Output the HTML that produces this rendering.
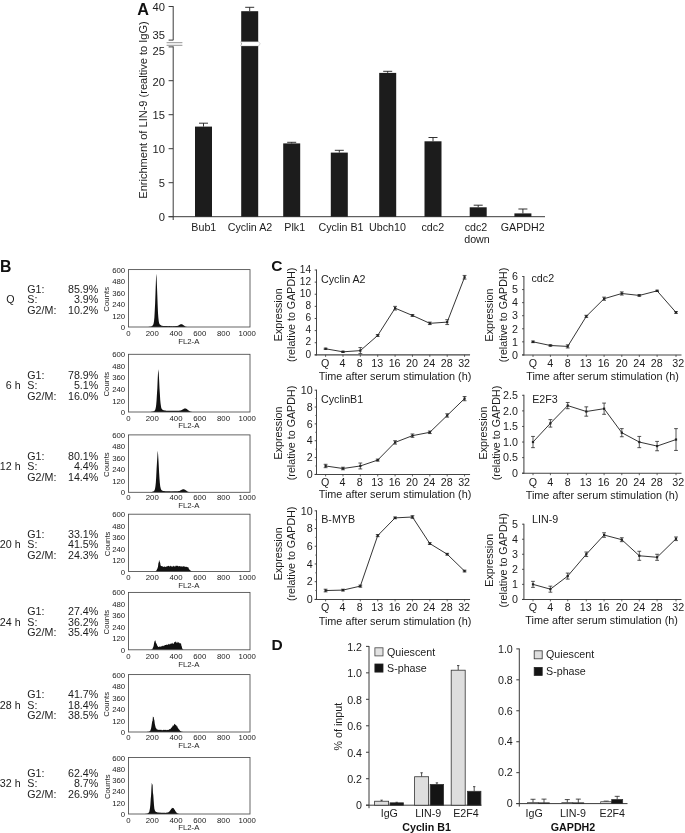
<!DOCTYPE html>
<html lang="en"><head><meta charset="utf-8"><title>Figure</title>
<style>
html,body{margin:0;padding:0;background:#fff;}
svg{display:block;font-family:"Liberation Sans",Arial,Helvetica,sans-serif;}
</style></head><body>
<svg width="685" height="833" viewBox="0 0 685 833">
<rect x="0" y="0" width="685" height="833" fill="#ffffff"/>
<text x="137.2" y="14.6" font-size="16.2" text-anchor="start" font-weight="bold" fill="#111">A</text>
<line x1="173.20" y1="6.20" x2="173.20" y2="40.20" stroke="#3a3a3a" stroke-width="1"/>
<line x1="173.20" y1="46.40" x2="173.20" y2="220.00" stroke="#3a3a3a" stroke-width="1"/>
<line x1="168.60" y1="216.70" x2="545.00" y2="216.70" stroke="#3a3a3a" stroke-width="1"/>
<line x1="168.60" y1="216.70" x2="173.20" y2="216.70" stroke="#3a3a3a" stroke-width="1"/>
<text x="165.0" y="220.6" font-size="11.2" text-anchor="end" font-weight="normal" fill="#1c1c1c">0</text>
<line x1="168.60" y1="182.70" x2="173.20" y2="182.70" stroke="#3a3a3a" stroke-width="1"/>
<text x="165.0" y="186.6" font-size="11.2" text-anchor="end" font-weight="normal" fill="#1c1c1c">5</text>
<line x1="168.60" y1="148.70" x2="173.20" y2="148.70" stroke="#3a3a3a" stroke-width="1"/>
<text x="165.0" y="152.6" font-size="11.2" text-anchor="end" font-weight="normal" fill="#1c1c1c">10</text>
<line x1="168.60" y1="114.70" x2="173.20" y2="114.70" stroke="#3a3a3a" stroke-width="1"/>
<text x="165.0" y="118.6" font-size="11.2" text-anchor="end" font-weight="normal" fill="#1c1c1c">15</text>
<line x1="168.60" y1="80.70" x2="173.20" y2="80.70" stroke="#3a3a3a" stroke-width="1"/>
<text x="165.0" y="85.8" font-size="11.2" text-anchor="end" font-weight="normal" fill="#1c1c1c">20</text>
<line x1="168.60" y1="46.90" x2="173.20" y2="46.90" stroke="#3a3a3a" stroke-width="1"/>
<text x="165.0" y="54.5" font-size="11.2" text-anchor="end" font-weight="normal" fill="#1c1c1c">25</text>
<line x1="168.60" y1="40.10" x2="173.20" y2="40.10" stroke="#3a3a3a" stroke-width="1"/>
<text x="165.0" y="38.7" font-size="11.2" text-anchor="end" font-weight="normal" fill="#1c1c1c">35</text>
<line x1="168.60" y1="6.50" x2="173.20" y2="6.50" stroke="#3a3a3a" stroke-width="1"/>
<text x="165.0" y="11.1" font-size="11.2" text-anchor="end" font-weight="normal" fill="#1c1c1c">40</text>
<line x1="166.60" y1="42.70" x2="182.40" y2="42.70" stroke="#888" stroke-width="0.9"/>
<line x1="166.60" y1="45.30" x2="182.40" y2="45.30" stroke="#888" stroke-width="0.9"/>
<text x="146.8" y="110.0" font-size="11.05" text-anchor="middle" font-weight="normal" fill="#1c1c1c" transform="rotate(-90 146.8 110)">Enrichment of LIN-9 (realtive to IgG)</text>
<line x1="203.50" y1="123.20" x2="203.50" y2="126.60" stroke="#1c1c1c" stroke-width="0.9"/>
<line x1="199.00" y1="123.20" x2="208.00" y2="123.20" stroke="#1c1c1c" stroke-width="0.9"/>
<rect x="195.00" y="126.60" width="17.00" height="90.10" fill="#1c1c1c" stroke="none" stroke-width="1"/>
<text x="203.8" y="230.5" font-size="10.7" text-anchor="middle" font-weight="normal" fill="#1c1c1c">Bub1</text>
<line x1="249.70" y1="7.30" x2="249.70" y2="11.20" stroke="#1c1c1c" stroke-width="0.9"/>
<line x1="245.20" y1="7.30" x2="254.20" y2="7.30" stroke="#1c1c1c" stroke-width="0.9"/>
<rect x="241.20" y="11.20" width="17.00" height="205.50" fill="#1c1c1c" stroke="none" stroke-width="1"/>
<text x="250.0" y="230.5" font-size="10.7" text-anchor="middle" font-weight="normal" fill="#1c1c1c">Cyclin A2</text>
<line x1="291.70" y1="142.30" x2="291.70" y2="143.40" stroke="#1c1c1c" stroke-width="0.9"/>
<line x1="287.20" y1="142.30" x2="296.20" y2="142.30" stroke="#1c1c1c" stroke-width="0.9"/>
<rect x="283.20" y="143.40" width="17.00" height="73.30" fill="#1c1c1c" stroke="none" stroke-width="1"/>
<text x="294.7" y="230.5" font-size="10.7" text-anchor="middle" font-weight="normal" fill="#1c1c1c">Plk1</text>
<line x1="339.30" y1="150.30" x2="339.30" y2="152.60" stroke="#1c1c1c" stroke-width="0.9"/>
<line x1="334.80" y1="150.30" x2="343.80" y2="150.30" stroke="#1c1c1c" stroke-width="0.9"/>
<rect x="330.80" y="152.60" width="17.00" height="64.10" fill="#1c1c1c" stroke="none" stroke-width="1"/>
<text x="341.0" y="230.5" font-size="10.7" text-anchor="middle" font-weight="normal" fill="#1c1c1c">Cyclin B1</text>
<line x1="387.70" y1="71.30" x2="387.70" y2="72.90" stroke="#1c1c1c" stroke-width="0.9"/>
<line x1="383.20" y1="71.30" x2="392.20" y2="71.30" stroke="#1c1c1c" stroke-width="0.9"/>
<rect x="379.20" y="72.90" width="17.00" height="143.80" fill="#1c1c1c" stroke="none" stroke-width="1"/>
<text x="387.5" y="230.5" font-size="10.7" text-anchor="middle" font-weight="normal" fill="#1c1c1c">Ubch10</text>
<line x1="433.00" y1="137.50" x2="433.00" y2="141.30" stroke="#1c1c1c" stroke-width="0.9"/>
<line x1="428.50" y1="137.50" x2="437.50" y2="137.50" stroke="#1c1c1c" stroke-width="0.9"/>
<rect x="424.50" y="141.30" width="17.00" height="75.40" fill="#1c1c1c" stroke="none" stroke-width="1"/>
<text x="432.8" y="230.5" font-size="10.7" text-anchor="middle" font-weight="normal" fill="#1c1c1c">cdc2</text>
<line x1="478.20" y1="205.20" x2="478.20" y2="207.30" stroke="#1c1c1c" stroke-width="0.9"/>
<line x1="473.70" y1="205.20" x2="482.70" y2="205.20" stroke="#1c1c1c" stroke-width="0.9"/>
<rect x="469.70" y="207.30" width="17.00" height="9.40" fill="#1c1c1c" stroke="none" stroke-width="1"/>
<text x="476.0" y="230.5" font-size="10.7" text-anchor="middle" font-weight="normal" fill="#1c1c1c">cdc2</text>
<line x1="522.90" y1="209.00" x2="522.90" y2="213.40" stroke="#1c1c1c" stroke-width="0.9"/>
<line x1="518.40" y1="209.00" x2="527.40" y2="209.00" stroke="#1c1c1c" stroke-width="0.9"/>
<rect x="514.40" y="213.40" width="17.00" height="3.30" fill="#1c1c1c" stroke="none" stroke-width="1"/>
<text x="522.7" y="230.5" font-size="10.7" text-anchor="middle" font-weight="normal" fill="#1c1c1c">GAPDH2</text>
<text x="477.0" y="242.6" font-size="10.7" text-anchor="middle" font-weight="normal" fill="#1c1c1c">down</text>
<path d="M240.6 41.7 L258.6 41.7 L260.2 43.8 L258.6 46 L240.6 46 L241.6 43.8 Z" fill="#fff" stroke="#999" stroke-width="0.4"/>
<text x="0.1" y="271.5" font-size="15.8" text-anchor="start" font-weight="bold" fill="#111">B</text>
<path d="M143.08 327.00 L143.08 327.00 L143.44 327.00 L143.81 327.00 L144.17 327.00 L144.54 327.00 L144.90 327.00 L145.27 327.00 L145.63 327.00 L146.00 327.00 L146.36 327.00 L146.72 327.00 L147.09 327.00 L147.45 327.00 L147.82 327.00 L148.18 327.00 L148.55 327.00 L148.91 326.86 L149.28 326.82 L149.64 326.78 L150.01 326.73 L150.37 326.64 L150.73 326.58 L151.10 326.43 L151.46 326.32 L151.83 326.16 L152.19 325.94 L152.56 325.62 L152.92 325.11 L153.29 324.59 L153.65 323.32 L154.01 321.13 L154.38 317.50 L154.74 311.07 L155.11 303.41 L155.47 293.40 L155.84 283.12 L156.20 273.69 L156.57 276.83 L156.93 285.45 L157.30 294.72 L157.66 305.08 L158.02 313.15 L158.39 317.91 L158.75 321.19 L159.12 323.11 L159.48 323.92 L159.85 324.49 L160.21 324.78 L160.58 325.08 L160.94 325.37 L161.31 325.43 L161.67 325.68 L162.03 325.75 L162.40 325.79 L162.76 325.92 L163.13 325.94 L163.49 326.03 L163.86 326.00 L164.22 326.01 L164.59 326.05 L164.95 326.04 L165.31 326.11 L165.68 326.08 L166.04 326.10 L166.41 326.11 L166.77 326.12 L167.14 326.09 L167.50 326.09 L167.87 326.13 L168.23 326.12 L168.59 326.17 L168.96 326.12 L169.32 326.12 L169.69 326.09 L170.05 326.11 L170.42 326.16 L170.78 326.15 L171.15 326.12 L171.51 326.18 L171.88 326.14 L172.24 326.17 L172.60 326.17 L172.97 326.18 L173.33 326.12 L173.70 326.17 L174.06 326.16 L174.43 326.14 L174.79 326.10 L175.16 326.16 L175.52 326.12 L175.88 326.09 L176.25 326.03 L176.61 325.99 L176.98 325.92 L177.34 325.90 L177.71 325.77 L178.07 325.63 L178.44 325.38 L178.80 325.16 L179.17 325.09 L179.53 324.86 L179.89 324.63 L180.26 324.44 L180.62 324.22 L180.99 324.09 L181.35 324.16 L181.72 324.28 L182.08 324.29 L182.45 324.49 L182.81 324.69 L183.18 324.89 L183.54 325.25 L183.90 325.57 L184.27 325.84 L184.63 326.09 L185.00 326.35 L185.36 326.48 L185.73 326.63 L186.09 326.74 L186.46 326.82 L186.82 327.00 L187.18 327.00 L187.55 327.00 L187.91 327.00 L188.28 327.00 L188.64 327.00 L189.01 327.00 L189.37 327.00 L189.74 327.00 L190.10 327.00 L190.47 327.00 L190.83 327.00 L191.19 327.00 L191.56 327.00 L191.92 327.00 L192.29 327.00 L192.65 327.00 L193.02 327.00 L193.38 327.00 L193.75 327.00 L194.11 327.00 L194.47 327.00 L194.84 327.00 L195.20 327.00 L195.57 327.00 L195.93 327.00 L196.30 327.00 L196.66 327.00 L197.03 327.00 L197.39 327.00 L197.75 327.00 L198.12 327.00 L198.48 327.00 L198.85 327.00 L199.21 327.00 L199.58 327.00 L199.94 327.00 L200.31 327.00 L200.67 327.00 L201.04 327.00 L201.40 327.00 L201.40 327.00 Z" fill="#111"/>
<rect x="128.50" y="269.60" width="121.50" height="57.40" fill="none" stroke="#4a4a4a" stroke-width="0.85"/>
<text x="125.2" y="330.0" font-size="7.8" text-anchor="end" font-weight="normal" fill="#1c1c1c">0</text>
<text x="125.2" y="318.5" font-size="7.8" text-anchor="end" font-weight="normal" fill="#1c1c1c">120</text>
<text x="125.2" y="307.0" font-size="7.8" text-anchor="end" font-weight="normal" fill="#1c1c1c">240</text>
<text x="125.2" y="295.6" font-size="7.8" text-anchor="end" font-weight="normal" fill="#1c1c1c">360</text>
<text x="125.2" y="284.1" font-size="7.8" text-anchor="end" font-weight="normal" fill="#1c1c1c">480</text>
<text x="125.2" y="272.6" font-size="7.8" text-anchor="end" font-weight="normal" fill="#1c1c1c">600</text>
<text x="128.5" y="335.9" font-size="7.8" text-anchor="middle" font-weight="normal" fill="#1c1c1c">0</text>
<text x="152.3" y="335.9" font-size="7.8" text-anchor="middle" font-weight="normal" fill="#1c1c1c">200</text>
<text x="176.0" y="335.9" font-size="7.8" text-anchor="middle" font-weight="normal" fill="#1c1c1c">400</text>
<text x="199.8" y="335.9" font-size="7.8" text-anchor="middle" font-weight="normal" fill="#1c1c1c">600</text>
<text x="223.5" y="335.9" font-size="7.8" text-anchor="middle" font-weight="normal" fill="#1c1c1c">800</text>
<text x="247.3" y="335.9" font-size="7.8" text-anchor="middle" font-weight="normal" fill="#1c1c1c">1000</text>
<text x="188.8" y="343.9" font-size="7.8" text-anchor="middle" font-weight="normal" fill="#1c1c1c">FL2-A</text>
<text x="109.5" y="299.3" font-size="7.8" text-anchor="middle" font-weight="normal" fill="#1c1c1c" transform="rotate(-90 109.5 299.3)">Counts</text>
<text x="10.5" y="303.1" font-size="10.7" text-anchor="middle" font-weight="normal" fill="#1c1c1c">Q</text>
<text x="27.3" y="292.6" font-size="10.7" text-anchor="start" font-weight="normal" fill="#1c1c1c">G1:</text>
<text x="98.3" y="292.6" font-size="10.7" text-anchor="end" font-weight="normal" fill="#1c1c1c">85.9%</text>
<text x="27.3" y="303.1" font-size="10.7" text-anchor="start" font-weight="normal" fill="#1c1c1c">S:</text>
<text x="98.3" y="303.1" font-size="10.7" text-anchor="end" font-weight="normal" fill="#1c1c1c">3.9%</text>
<text x="27.3" y="313.6" font-size="10.7" text-anchor="start" font-weight="normal" fill="#1c1c1c">G2/M:</text>
<text x="98.3" y="313.6" font-size="10.7" text-anchor="end" font-weight="normal" fill="#1c1c1c">10.2%</text>
<path d="M143.08 412.00 L143.08 412.00 L143.44 412.00 L143.81 412.00 L144.17 412.00 L144.54 412.00 L144.90 412.00 L145.27 412.00 L145.63 412.00 L146.00 412.00 L146.36 412.00 L146.72 412.00 L147.09 412.00 L147.45 412.00 L147.82 412.00 L148.18 412.00 L148.55 412.00 L148.91 412.00 L149.28 412.00 L149.64 412.00 L150.01 412.00 L150.37 412.00 L150.73 411.88 L151.10 411.84 L151.46 411.79 L151.83 411.76 L152.19 411.68 L152.56 411.61 L152.92 411.52 L153.29 411.43 L153.65 411.31 L154.01 411.13 L154.38 410.90 L154.74 410.57 L155.11 409.96 L155.47 408.95 L155.84 407.31 L156.20 404.79 L156.57 400.44 L156.93 394.33 L157.30 388.84 L157.66 380.06 L158.02 372.83 L158.39 369.24 L158.75 373.14 L159.12 380.10 L159.48 387.90 L159.85 393.41 L160.21 399.79 L160.58 403.41 L160.94 406.03 L161.31 407.91 L161.67 408.80 L162.03 409.18 L162.40 409.58 L162.76 409.94 L163.13 410.11 L163.49 410.24 L163.86 410.22 L164.22 410.33 L164.59 410.50 L164.95 410.46 L165.31 410.48 L165.68 410.57 L166.04 410.64 L166.41 410.64 L166.77 410.72 L167.14 410.75 L167.50 410.63 L167.87 410.69 L168.23 410.71 L168.59 410.67 L168.96 410.74 L169.32 410.68 L169.69 410.69 L170.05 410.77 L170.42 410.77 L170.78 410.77 L171.15 410.78 L171.51 410.73 L171.88 410.78 L172.24 410.76 L172.60 410.79 L172.97 410.70 L173.33 410.77 L173.70 410.75 L174.06 410.74 L174.43 410.70 L174.79 410.76 L175.16 410.70 L175.52 410.75 L175.88 410.74 L176.25 410.75 L176.61 410.81 L176.98 410.75 L177.34 410.78 L177.71 410.80 L178.07 410.69 L178.44 410.76 L178.80 410.70 L179.17 410.64 L179.53 410.62 L179.89 410.60 L180.26 410.51 L180.62 410.41 L180.99 410.25 L181.35 410.23 L181.72 409.98 L182.08 409.86 L182.45 409.65 L182.81 409.30 L183.18 409.15 L183.54 408.91 L183.90 408.65 L184.27 408.44 L184.63 408.49 L185.00 408.39 L185.36 408.44 L185.73 408.52 L186.09 408.61 L186.46 408.89 L186.82 409.11 L187.18 409.40 L187.55 409.59 L187.91 409.96 L188.28 410.24 L188.64 410.52 L189.01 410.87 L189.37 411.07 L189.74 411.25 L190.10 411.43 L190.47 411.60 L190.83 411.71 L191.19 411.78 L191.56 411.85 L191.92 412.00 L192.29 412.00 L192.65 412.00 L193.02 412.00 L193.38 412.00 L193.75 412.00 L194.11 412.00 L194.47 412.00 L194.84 412.00 L195.20 412.00 L195.57 412.00 L195.93 412.00 L196.30 412.00 L196.66 412.00 L197.03 412.00 L197.39 412.00 L197.75 412.00 L198.12 412.00 L198.48 412.00 L198.85 412.00 L199.21 412.00 L199.58 412.00 L199.94 412.00 L200.31 412.00 L200.67 412.00 L201.04 412.00 L201.40 412.00 L201.40 412.00 Z" fill="#111"/>
<rect x="128.50" y="354.30" width="121.50" height="57.70" fill="none" stroke="#4a4a4a" stroke-width="0.85"/>
<text x="125.2" y="415.0" font-size="7.8" text-anchor="end" font-weight="normal" fill="#1c1c1c">0</text>
<text x="125.2" y="403.5" font-size="7.8" text-anchor="end" font-weight="normal" fill="#1c1c1c">120</text>
<text x="125.2" y="391.9" font-size="7.8" text-anchor="end" font-weight="normal" fill="#1c1c1c">240</text>
<text x="125.2" y="380.4" font-size="7.8" text-anchor="end" font-weight="normal" fill="#1c1c1c">360</text>
<text x="125.2" y="368.8" font-size="7.8" text-anchor="end" font-weight="normal" fill="#1c1c1c">480</text>
<text x="125.2" y="357.3" font-size="7.8" text-anchor="end" font-weight="normal" fill="#1c1c1c">600</text>
<text x="128.5" y="421.2" font-size="7.8" text-anchor="middle" font-weight="normal" fill="#1c1c1c">0</text>
<text x="152.3" y="421.2" font-size="7.8" text-anchor="middle" font-weight="normal" fill="#1c1c1c">200</text>
<text x="176.0" y="421.2" font-size="7.8" text-anchor="middle" font-weight="normal" fill="#1c1c1c">400</text>
<text x="199.8" y="421.2" font-size="7.8" text-anchor="middle" font-weight="normal" fill="#1c1c1c">600</text>
<text x="223.5" y="421.2" font-size="7.8" text-anchor="middle" font-weight="normal" fill="#1c1c1c">800</text>
<text x="247.3" y="421.2" font-size="7.8" text-anchor="middle" font-weight="normal" fill="#1c1c1c">1000</text>
<text x="188.8" y="427.9" font-size="7.8" text-anchor="middle" font-weight="normal" fill="#1c1c1c">FL2-A</text>
<text x="109.5" y="384.1" font-size="7.8" text-anchor="middle" font-weight="normal" fill="#1c1c1c" transform="rotate(-90 109.5 384.15)">Counts</text>
<text x="20.6" y="389.3" font-size="10.7" text-anchor="end" font-weight="normal" fill="#1c1c1c">6 h</text>
<text x="27.3" y="378.8" font-size="10.7" text-anchor="start" font-weight="normal" fill="#1c1c1c">G1:</text>
<text x="98.3" y="378.8" font-size="10.7" text-anchor="end" font-weight="normal" fill="#1c1c1c">78.9%</text>
<text x="27.3" y="389.3" font-size="10.7" text-anchor="start" font-weight="normal" fill="#1c1c1c">S:</text>
<text x="98.3" y="389.3" font-size="10.7" text-anchor="end" font-weight="normal" fill="#1c1c1c">5.1%</text>
<text x="27.3" y="399.8" font-size="10.7" text-anchor="start" font-weight="normal" fill="#1c1c1c">G2/M:</text>
<text x="98.3" y="399.8" font-size="10.7" text-anchor="end" font-weight="normal" fill="#1c1c1c">16.0%</text>
<path d="M143.08 492.30 L143.08 492.30 L143.44 492.30 L143.81 492.30 L144.17 492.30 L144.54 492.30 L144.90 492.30 L145.27 492.30 L145.63 492.30 L146.00 492.30 L146.36 492.30 L146.72 492.30 L147.09 492.30 L147.45 492.30 L147.82 492.30 L148.18 492.30 L148.55 492.30 L148.91 492.30 L149.28 492.30 L149.64 492.30 L150.01 492.17 L150.37 492.15 L150.73 492.11 L151.10 492.08 L151.46 492.03 L151.83 491.94 L152.19 491.86 L152.56 491.78 L152.92 491.59 L153.29 491.44 L153.65 491.20 L154.01 490.99 L154.38 490.40 L154.74 489.79 L155.11 488.17 L155.47 486.01 L155.84 482.43 L156.20 476.83 L156.57 469.15 L156.93 463.31 L157.30 457.14 L157.66 450.80 L158.02 453.17 L158.39 458.92 L158.75 465.53 L159.12 472.76 L159.48 478.54 L159.85 483.03 L160.21 486.14 L160.58 487.83 L160.94 489.13 L161.31 489.70 L161.67 490.17 L162.03 490.40 L162.40 490.65 L162.76 490.75 L163.13 490.91 L163.49 490.90 L163.86 491.01 L164.22 491.11 L164.59 491.13 L164.95 491.12 L165.31 491.25 L165.68 491.20 L166.04 491.26 L166.41 491.27 L166.77 491.25 L167.14 491.31 L167.50 491.30 L167.87 491.29 L168.23 491.27 L168.59 491.34 L168.96 491.29 L169.32 491.31 L169.69 491.32 L170.05 491.34 L170.42 491.35 L170.78 491.38 L171.15 491.37 L171.51 491.38 L171.88 491.32 L172.24 491.36 L172.60 491.37 L172.97 491.38 L173.33 491.31 L173.70 491.31 L174.06 491.33 L174.43 491.36 L174.79 491.37 L175.16 491.36 L175.52 491.34 L175.88 491.36 L176.25 491.33 L176.61 491.34 L176.98 491.25 L177.34 491.22 L177.71 491.23 L178.07 491.22 L178.44 491.07 L178.80 491.07 L179.17 490.96 L179.53 490.89 L179.89 490.68 L180.26 490.50 L180.62 490.30 L180.99 490.16 L181.35 489.89 L181.72 489.82 L182.08 489.58 L182.45 489.48 L182.81 489.29 L183.18 489.34 L183.54 489.35 L183.90 489.33 L184.27 489.46 L184.63 489.53 L185.00 489.76 L185.36 489.95 L185.73 490.23 L186.09 490.49 L186.46 490.74 L186.82 491.06 L187.18 491.29 L187.55 491.44 L187.91 491.68 L188.28 491.80 L188.64 491.93 L189.01 492.04 L189.37 492.10 L189.74 492.16 L190.10 492.30 L190.47 492.30 L190.83 492.30 L191.19 492.30 L191.56 492.30 L191.92 492.30 L192.29 492.30 L192.65 492.30 L193.02 492.30 L193.38 492.30 L193.75 492.30 L194.11 492.30 L194.47 492.30 L194.84 492.30 L195.20 492.30 L195.57 492.30 L195.93 492.30 L196.30 492.30 L196.66 492.30 L197.03 492.30 L197.39 492.30 L197.75 492.30 L198.12 492.30 L198.48 492.30 L198.85 492.30 L199.21 492.30 L199.58 492.30 L199.94 492.30 L200.31 492.30 L200.67 492.30 L201.04 492.30 L201.40 492.30 L201.40 492.30 Z" fill="#111"/>
<rect x="128.50" y="434.90" width="121.50" height="57.40" fill="none" stroke="#4a4a4a" stroke-width="0.85"/>
<text x="125.2" y="495.3" font-size="7.8" text-anchor="end" font-weight="normal" fill="#1c1c1c">0</text>
<text x="125.2" y="483.8" font-size="7.8" text-anchor="end" font-weight="normal" fill="#1c1c1c">120</text>
<text x="125.2" y="472.3" font-size="7.8" text-anchor="end" font-weight="normal" fill="#1c1c1c">240</text>
<text x="125.2" y="460.9" font-size="7.8" text-anchor="end" font-weight="normal" fill="#1c1c1c">360</text>
<text x="125.2" y="449.4" font-size="7.8" text-anchor="end" font-weight="normal" fill="#1c1c1c">480</text>
<text x="125.2" y="437.9" font-size="7.8" text-anchor="end" font-weight="normal" fill="#1c1c1c">600</text>
<text x="128.5" y="499.9" font-size="7.8" text-anchor="middle" font-weight="normal" fill="#1c1c1c">0</text>
<text x="152.3" y="499.9" font-size="7.8" text-anchor="middle" font-weight="normal" fill="#1c1c1c">200</text>
<text x="176.0" y="499.9" font-size="7.8" text-anchor="middle" font-weight="normal" fill="#1c1c1c">400</text>
<text x="199.8" y="499.9" font-size="7.8" text-anchor="middle" font-weight="normal" fill="#1c1c1c">600</text>
<text x="223.5" y="499.9" font-size="7.8" text-anchor="middle" font-weight="normal" fill="#1c1c1c">800</text>
<text x="247.3" y="499.9" font-size="7.8" text-anchor="middle" font-weight="normal" fill="#1c1c1c">1000</text>
<text x="188.8" y="507.5" font-size="7.8" text-anchor="middle" font-weight="normal" fill="#1c1c1c">FL2-A</text>
<text x="109.5" y="464.6" font-size="7.8" text-anchor="middle" font-weight="normal" fill="#1c1c1c" transform="rotate(-90 109.5 464.6)">Counts</text>
<text x="20.6" y="470.2" font-size="10.7" text-anchor="end" font-weight="normal" fill="#1c1c1c">12 h</text>
<text x="27.3" y="459.7" font-size="10.7" text-anchor="start" font-weight="normal" fill="#1c1c1c">G1:</text>
<text x="98.3" y="459.7" font-size="10.7" text-anchor="end" font-weight="normal" fill="#1c1c1c">80.1%</text>
<text x="27.3" y="470.2" font-size="10.7" text-anchor="start" font-weight="normal" fill="#1c1c1c">S:</text>
<text x="98.3" y="470.2" font-size="10.7" text-anchor="end" font-weight="normal" fill="#1c1c1c">4.4%</text>
<text x="27.3" y="480.7" font-size="10.7" text-anchor="start" font-weight="normal" fill="#1c1c1c">G2/M:</text>
<text x="98.3" y="480.7" font-size="10.7" text-anchor="end" font-weight="normal" fill="#1c1c1c">14.4%</text>
<path d="M143.08 571.50 L143.08 571.50 L143.44 571.50 L143.81 571.50 L144.17 571.50 L144.54 571.50 L144.90 571.50 L145.27 571.50 L145.63 571.50 L146.00 571.50 L146.36 571.50 L146.72 571.50 L147.09 571.50 L147.45 571.50 L147.82 571.50 L148.18 571.50 L148.55 571.50 L148.91 571.50 L149.28 571.50 L149.64 571.50 L150.01 571.50 L150.37 571.50 L150.73 571.50 L151.10 571.50 L151.46 571.50 L151.83 571.50 L152.19 571.50 L152.56 571.50 L152.92 571.50 L153.29 571.50 L153.65 571.50 L154.01 571.50 L154.38 571.50 L154.74 571.50 L155.11 571.31 L155.47 571.20 L155.84 571.11 L156.20 570.79 L156.57 570.26 L156.93 569.51 L157.30 568.86 L157.66 567.85 L158.02 566.40 L158.39 563.14 L158.75 562.41 L159.12 559.84 L159.48 561.29 L159.85 561.89 L160.21 562.91 L160.58 565.67 L160.94 565.45 L161.31 566.22 L161.67 565.90 L162.03 566.19 L162.40 566.80 L162.76 566.02 L163.13 566.52 L163.49 567.08 L163.86 567.10 L164.22 566.51 L164.59 566.55 L164.95 566.72 L165.31 566.90 L165.68 566.64 L166.04 566.66 L166.41 566.01 L166.77 567.01 L167.14 566.08 L167.50 565.95 L167.87 566.82 L168.23 565.81 L168.59 566.05 L168.96 565.80 L169.32 566.55 L169.69 566.43 L170.05 566.39 L170.42 565.61 L170.78 566.12 L171.15 566.39 L171.51 566.29 L171.88 566.48 L172.24 566.76 L172.60 566.68 L172.97 565.74 L173.33 566.44 L173.70 565.60 L174.06 566.48 L174.43 566.45 L174.79 566.14 L175.16 566.55 L175.52 566.32 L175.88 565.58 L176.25 565.67 L176.61 565.77 L176.98 566.01 L177.34 565.66 L177.71 565.64 L178.07 566.15 L178.44 565.95 L178.80 566.81 L179.17 565.96 L179.53 566.33 L179.89 565.97 L180.26 566.12 L180.62 566.58 L180.99 566.89 L181.35 565.82 L181.72 566.83 L182.08 566.42 L182.45 566.59 L182.81 566.67 L183.18 566.15 L183.54 565.88 L183.90 566.77 L184.27 566.31 L184.63 566.76 L185.00 566.48 L185.36 566.70 L185.73 567.01 L186.09 567.06 L186.46 567.08 L186.82 566.39 L187.18 566.98 L187.55 567.46 L187.91 567.04 L188.28 567.34 L188.64 568.24 L189.01 568.93 L189.37 569.38 L189.74 569.88 L190.10 570.21 L190.47 570.62 L190.83 570.85 L191.19 571.04 L191.56 571.16 L191.92 571.25 L192.29 571.33 L192.65 571.50 L193.02 571.50 L193.38 571.50 L193.75 571.50 L194.11 571.50 L194.47 571.50 L194.84 571.50 L195.20 571.50 L195.57 571.50 L195.93 571.50 L196.30 571.50 L196.66 571.50 L197.03 571.50 L197.39 571.50 L197.75 571.50 L198.12 571.50 L198.48 571.50 L198.85 571.50 L199.21 571.50 L199.58 571.50 L199.94 571.50 L200.31 571.50 L200.67 571.50 L201.04 571.50 L201.40 571.50 L201.40 571.50 Z" fill="#111"/>
<rect x="128.50" y="514.20" width="121.50" height="57.30" fill="none" stroke="#4a4a4a" stroke-width="0.85"/>
<text x="125.2" y="574.5" font-size="7.8" text-anchor="end" font-weight="normal" fill="#1c1c1c">0</text>
<text x="125.2" y="563.0" font-size="7.8" text-anchor="end" font-weight="normal" fill="#1c1c1c">120</text>
<text x="125.2" y="551.6" font-size="7.8" text-anchor="end" font-weight="normal" fill="#1c1c1c">240</text>
<text x="125.2" y="540.1" font-size="7.8" text-anchor="end" font-weight="normal" fill="#1c1c1c">360</text>
<text x="125.2" y="528.7" font-size="7.8" text-anchor="end" font-weight="normal" fill="#1c1c1c">480</text>
<text x="125.2" y="517.2" font-size="7.8" text-anchor="end" font-weight="normal" fill="#1c1c1c">600</text>
<text x="128.5" y="580.2" font-size="7.8" text-anchor="middle" font-weight="normal" fill="#1c1c1c">0</text>
<text x="152.3" y="580.2" font-size="7.8" text-anchor="middle" font-weight="normal" fill="#1c1c1c">200</text>
<text x="176.0" y="580.2" font-size="7.8" text-anchor="middle" font-weight="normal" fill="#1c1c1c">400</text>
<text x="199.8" y="580.2" font-size="7.8" text-anchor="middle" font-weight="normal" fill="#1c1c1c">600</text>
<text x="223.5" y="580.2" font-size="7.8" text-anchor="middle" font-weight="normal" fill="#1c1c1c">800</text>
<text x="247.3" y="580.2" font-size="7.8" text-anchor="middle" font-weight="normal" fill="#1c1c1c">1000</text>
<text x="188.8" y="587.9" font-size="7.8" text-anchor="middle" font-weight="normal" fill="#1c1c1c">FL2-A</text>
<text x="109.5" y="543.9" font-size="7.8" text-anchor="middle" font-weight="normal" fill="#1c1c1c" transform="rotate(-90 109.5 543.85)">Counts</text>
<text x="20.6" y="548.3" font-size="10.7" text-anchor="end" font-weight="normal" fill="#1c1c1c">20 h</text>
<text x="27.3" y="537.8" font-size="10.7" text-anchor="start" font-weight="normal" fill="#1c1c1c">G1:</text>
<text x="98.3" y="537.8" font-size="10.7" text-anchor="end" font-weight="normal" fill="#1c1c1c">33.1%</text>
<text x="27.3" y="548.3" font-size="10.7" text-anchor="start" font-weight="normal" fill="#1c1c1c">S:</text>
<text x="98.3" y="548.3" font-size="10.7" text-anchor="end" font-weight="normal" fill="#1c1c1c">41.5%</text>
<text x="27.3" y="558.8" font-size="10.7" text-anchor="start" font-weight="normal" fill="#1c1c1c">G2/M:</text>
<text x="98.3" y="558.8" font-size="10.7" text-anchor="end" font-weight="normal" fill="#1c1c1c">24.3%</text>
<path d="M143.08 649.80 L143.08 649.80 L143.44 649.80 L143.81 649.80 L144.17 649.80 L144.54 649.80 L144.90 649.80 L145.27 649.80 L145.63 649.80 L146.00 649.80 L146.36 649.80 L146.72 649.80 L147.09 649.80 L147.45 649.80 L147.82 649.80 L148.18 649.80 L148.55 649.80 L148.91 649.80 L149.28 649.80 L149.64 649.80 L150.01 649.80 L150.37 649.80 L150.73 649.67 L151.10 649.62 L151.46 649.55 L151.83 649.42 L152.19 649.14 L152.56 648.57 L152.92 647.72 L153.29 646.95 L153.65 645.65 L154.01 643.50 L154.38 641.86 L154.74 641.03 L155.11 640.62 L155.47 640.38 L155.84 642.55 L156.20 643.09 L156.57 643.99 L156.93 644.44 L157.30 645.65 L157.66 646.04 L158.02 646.65 L158.39 646.95 L158.75 646.97 L159.12 646.42 L159.48 646.55 L159.85 646.78 L160.21 646.93 L160.58 646.47 L160.94 646.24 L161.31 646.36 L161.67 646.41 L162.03 645.95 L162.40 645.62 L162.76 646.16 L163.13 646.26 L163.49 645.87 L163.86 645.70 L164.22 645.33 L164.59 645.74 L164.95 645.00 L165.31 644.96 L165.68 645.12 L166.04 645.36 L166.41 644.37 L166.77 645.05 L167.14 644.34 L167.50 644.96 L167.87 644.88 L168.23 644.09 L168.59 644.60 L168.96 643.62 L169.32 644.13 L169.69 644.46 L170.05 644.32 L170.42 643.95 L170.78 643.49 L171.15 642.97 L171.51 644.06 L171.88 643.60 L172.24 643.78 L172.60 642.49 L172.97 643.71 L173.33 643.76 L173.70 643.66 L174.06 643.01 L174.43 642.06 L174.79 641.98 L175.16 642.13 L175.52 641.56 L175.88 641.57 L176.25 642.64 L176.61 642.90 L176.98 641.56 L177.34 641.90 L177.71 643.18 L178.07 642.05 L178.44 642.57 L178.80 642.59 L179.17 642.69 L179.53 643.03 L179.89 643.42 L180.26 643.16 L180.62 643.46 L180.99 643.37 L181.35 645.57 L181.72 646.17 L182.08 647.93 L182.45 648.73 L182.81 649.19 L183.18 649.50 L183.54 649.67 L183.90 649.80 L184.27 649.80 L184.63 649.80 L185.00 649.80 L185.36 649.80 L185.73 649.80 L186.09 649.80 L186.46 649.80 L186.82 649.80 L187.18 649.80 L187.55 649.80 L187.91 649.80 L188.28 649.80 L188.64 649.80 L189.01 649.80 L189.37 649.80 L189.74 649.80 L190.10 649.80 L190.47 649.80 L190.83 649.80 L191.19 649.80 L191.56 649.80 L191.92 649.80 L192.29 649.80 L192.65 649.80 L193.02 649.80 L193.38 649.80 L193.75 649.80 L194.11 649.80 L194.47 649.80 L194.84 649.80 L195.20 649.80 L195.57 649.80 L195.93 649.80 L196.30 649.80 L196.66 649.80 L197.03 649.80 L197.39 649.80 L197.75 649.80 L198.12 649.80 L198.48 649.80 L198.85 649.80 L199.21 649.80 L199.58 649.80 L199.94 649.80 L200.31 649.80 L200.67 649.80 L201.04 649.80 L201.40 649.80 L201.40 649.80 Z" fill="#111"/>
<rect x="128.50" y="592.40" width="121.50" height="57.40" fill="none" stroke="#4a4a4a" stroke-width="0.85"/>
<text x="125.2" y="652.8" font-size="7.8" text-anchor="end" font-weight="normal" fill="#1c1c1c">0</text>
<text x="125.2" y="641.3" font-size="7.8" text-anchor="end" font-weight="normal" fill="#1c1c1c">120</text>
<text x="125.2" y="629.8" font-size="7.8" text-anchor="end" font-weight="normal" fill="#1c1c1c">240</text>
<text x="125.2" y="618.4" font-size="7.8" text-anchor="end" font-weight="normal" fill="#1c1c1c">360</text>
<text x="125.2" y="606.9" font-size="7.8" text-anchor="end" font-weight="normal" fill="#1c1c1c">480</text>
<text x="125.2" y="595.4" font-size="7.8" text-anchor="end" font-weight="normal" fill="#1c1c1c">600</text>
<text x="128.5" y="658.7" font-size="7.8" text-anchor="middle" font-weight="normal" fill="#1c1c1c">0</text>
<text x="152.3" y="658.7" font-size="7.8" text-anchor="middle" font-weight="normal" fill="#1c1c1c">200</text>
<text x="176.0" y="658.7" font-size="7.8" text-anchor="middle" font-weight="normal" fill="#1c1c1c">400</text>
<text x="199.8" y="658.7" font-size="7.8" text-anchor="middle" font-weight="normal" fill="#1c1c1c">600</text>
<text x="223.5" y="658.7" font-size="7.8" text-anchor="middle" font-weight="normal" fill="#1c1c1c">800</text>
<text x="247.3" y="658.7" font-size="7.8" text-anchor="middle" font-weight="normal" fill="#1c1c1c">1000</text>
<text x="188.8" y="666.7" font-size="7.8" text-anchor="middle" font-weight="normal" fill="#1c1c1c">FL2-A</text>
<text x="109.5" y="622.1" font-size="7.8" text-anchor="middle" font-weight="normal" fill="#1c1c1c" transform="rotate(-90 109.5 622.0999999999999)">Counts</text>
<text x="20.6" y="625.8" font-size="10.7" text-anchor="end" font-weight="normal" fill="#1c1c1c">24 h</text>
<text x="27.3" y="615.3" font-size="10.7" text-anchor="start" font-weight="normal" fill="#1c1c1c">G1:</text>
<text x="98.3" y="615.3" font-size="10.7" text-anchor="end" font-weight="normal" fill="#1c1c1c">27.4%</text>
<text x="27.3" y="625.8" font-size="10.7" text-anchor="start" font-weight="normal" fill="#1c1c1c">S:</text>
<text x="98.3" y="625.8" font-size="10.7" text-anchor="end" font-weight="normal" fill="#1c1c1c">36.2%</text>
<text x="27.3" y="636.3" font-size="10.7" text-anchor="start" font-weight="normal" fill="#1c1c1c">G2/M:</text>
<text x="98.3" y="636.3" font-size="10.7" text-anchor="end" font-weight="normal" fill="#1c1c1c">35.4%</text>
<path d="M143.08 732.00 L143.08 732.00 L143.44 732.00 L143.81 732.00 L144.17 732.00 L144.54 732.00 L144.90 732.00 L145.27 732.00 L145.63 732.00 L146.00 732.00 L146.36 732.00 L146.72 732.00 L147.09 731.88 L147.45 731.85 L147.82 731.84 L148.18 731.81 L148.55 731.76 L148.91 731.65 L149.28 731.50 L149.64 731.33 L150.01 731.05 L150.37 730.46 L150.73 729.49 L151.10 728.13 L151.46 726.23 L151.83 723.77 L152.19 721.60 L152.56 720.74 L152.92 716.39 L153.29 716.92 L153.65 716.89 L154.01 719.17 L154.38 720.17 L154.74 723.60 L155.11 725.33 L155.47 726.84 L155.84 728.05 L156.20 728.19 L156.57 728.97 L156.93 729.45 L157.30 729.60 L157.66 729.38 L158.02 729.73 L158.39 729.93 L158.75 729.67 L159.12 729.78 L159.48 729.64 L159.85 730.11 L160.21 729.93 L160.58 729.78 L160.94 729.78 L161.31 729.75 L161.67 730.19 L162.03 730.07 L162.40 730.16 L162.76 730.13 L163.13 729.75 L163.49 729.94 L163.86 729.77 L164.22 730.04 L164.59 729.81 L164.95 730.01 L165.31 730.10 L165.68 729.84 L166.04 729.75 L166.41 730.15 L166.77 729.90 L167.14 729.86 L167.50 730.03 L167.87 729.91 L168.23 729.96 L168.59 729.85 L168.96 729.71 L169.32 729.35 L169.69 729.12 L170.05 729.20 L170.42 729.08 L170.78 728.50 L171.15 727.79 L171.51 727.87 L171.88 727.28 L172.24 726.95 L172.60 725.65 L172.97 725.50 L173.33 725.85 L173.70 725.43 L174.06 724.61 L174.43 724.12 L174.79 723.87 L175.16 724.95 L175.52 724.98 L175.88 724.32 L176.25 725.24 L176.61 725.94 L176.98 726.46 L177.34 726.25 L177.71 727.66 L178.07 728.02 L178.44 728.80 L178.80 729.30 L179.17 729.55 L179.53 729.98 L179.89 730.62 L180.26 730.97 L180.62 731.11 L180.99 731.41 L181.35 731.59 L181.72 731.63 L182.08 731.76 L182.45 731.82 L182.81 732.00 L183.18 732.00 L183.54 732.00 L183.90 732.00 L184.27 732.00 L184.63 732.00 L185.00 732.00 L185.36 732.00 L185.73 732.00 L186.09 732.00 L186.46 732.00 L186.82 732.00 L187.18 732.00 L187.55 732.00 L187.91 732.00 L188.28 732.00 L188.64 732.00 L189.01 732.00 L189.37 732.00 L189.74 732.00 L190.10 732.00 L190.47 732.00 L190.83 732.00 L191.19 732.00 L191.56 732.00 L191.92 732.00 L192.29 732.00 L192.65 732.00 L193.02 732.00 L193.38 732.00 L193.75 732.00 L194.11 732.00 L194.47 732.00 L194.84 732.00 L195.20 732.00 L195.57 732.00 L195.93 732.00 L196.30 732.00 L196.66 732.00 L197.03 732.00 L197.39 732.00 L197.75 732.00 L198.12 732.00 L198.48 732.00 L198.85 732.00 L199.21 732.00 L199.58 732.00 L199.94 732.00 L200.31 732.00 L200.67 732.00 L201.04 732.00 L201.40 732.00 L201.40 732.00 Z" fill="#111"/>
<rect x="128.50" y="674.60" width="121.50" height="57.40" fill="none" stroke="#4a4a4a" stroke-width="0.85"/>
<text x="125.2" y="735.0" font-size="7.8" text-anchor="end" font-weight="normal" fill="#1c1c1c">0</text>
<text x="125.2" y="723.5" font-size="7.8" text-anchor="end" font-weight="normal" fill="#1c1c1c">120</text>
<text x="125.2" y="712.0" font-size="7.8" text-anchor="end" font-weight="normal" fill="#1c1c1c">240</text>
<text x="125.2" y="700.6" font-size="7.8" text-anchor="end" font-weight="normal" fill="#1c1c1c">360</text>
<text x="125.2" y="689.1" font-size="7.8" text-anchor="end" font-weight="normal" fill="#1c1c1c">480</text>
<text x="125.2" y="677.6" font-size="7.8" text-anchor="end" font-weight="normal" fill="#1c1c1c">600</text>
<text x="128.5" y="740.2" font-size="7.8" text-anchor="middle" font-weight="normal" fill="#1c1c1c">0</text>
<text x="152.3" y="740.2" font-size="7.8" text-anchor="middle" font-weight="normal" fill="#1c1c1c">200</text>
<text x="176.0" y="740.2" font-size="7.8" text-anchor="middle" font-weight="normal" fill="#1c1c1c">400</text>
<text x="199.8" y="740.2" font-size="7.8" text-anchor="middle" font-weight="normal" fill="#1c1c1c">600</text>
<text x="223.5" y="740.2" font-size="7.8" text-anchor="middle" font-weight="normal" fill="#1c1c1c">800</text>
<text x="247.3" y="740.2" font-size="7.8" text-anchor="middle" font-weight="normal" fill="#1c1c1c">1000</text>
<text x="188.8" y="747.8" font-size="7.8" text-anchor="middle" font-weight="normal" fill="#1c1c1c">FL2-A</text>
<text x="109.5" y="704.3" font-size="7.8" text-anchor="middle" font-weight="normal" fill="#1c1c1c" transform="rotate(-90 109.5 704.3)">Counts</text>
<text x="20.6" y="708.7" font-size="10.7" text-anchor="end" font-weight="normal" fill="#1c1c1c">28 h</text>
<text x="27.3" y="698.2" font-size="10.7" text-anchor="start" font-weight="normal" fill="#1c1c1c">G1:</text>
<text x="98.3" y="698.2" font-size="10.7" text-anchor="end" font-weight="normal" fill="#1c1c1c">41.7%</text>
<text x="27.3" y="708.7" font-size="10.7" text-anchor="start" font-weight="normal" fill="#1c1c1c">S:</text>
<text x="98.3" y="708.7" font-size="10.7" text-anchor="end" font-weight="normal" fill="#1c1c1c">18.4%</text>
<text x="27.3" y="719.2" font-size="10.7" text-anchor="start" font-weight="normal" fill="#1c1c1c">G2/M:</text>
<text x="98.3" y="719.2" font-size="10.7" text-anchor="end" font-weight="normal" fill="#1c1c1c">38.5%</text>
<path d="M143.08 814.00 L143.08 814.00 L143.44 814.00 L143.81 814.00 L144.17 814.00 L144.54 814.00 L144.90 814.00 L145.27 813.88 L145.63 813.84 L146.00 813.81 L146.36 813.75 L146.72 813.72 L147.09 813.59 L147.45 813.50 L147.82 813.40 L148.18 813.11 L148.55 812.79 L148.91 812.39 L149.28 811.69 L149.64 810.00 L150.01 808.08 L150.37 804.61 L150.73 798.91 L151.10 794.88 L151.46 787.43 L151.83 782.40 L152.19 784.87 L152.56 784.00 L152.92 792.57 L153.29 794.91 L153.65 800.31 L154.01 805.26 L154.38 808.77 L154.74 809.91 L155.11 811.04 L155.47 811.26 L155.84 812.06 L156.20 811.92 L156.57 812.03 L156.93 812.26 L157.30 812.32 L157.66 812.62 L158.02 812.40 L158.39 812.61 L158.75 812.49 L159.12 812.54 L159.48 812.80 L159.85 812.62 L160.21 812.59 L160.58 812.87 L160.94 812.79 L161.31 812.67 L161.67 812.86 L162.03 812.64 L162.40 812.83 L162.76 812.67 L163.13 812.87 L163.49 812.77 L163.86 812.65 L164.22 812.86 L164.59 812.84 L164.95 812.77 L165.31 812.82 L165.68 812.89 L166.04 812.84 L166.41 812.82 L166.77 812.55 L167.14 812.58 L167.50 812.42 L167.87 812.57 L168.23 812.18 L168.59 812.27 L168.96 811.82 L169.32 811.44 L169.69 811.24 L170.05 810.42 L170.42 810.20 L170.78 809.68 L171.15 808.84 L171.51 809.32 L171.88 807.81 L172.24 808.03 L172.60 808.22 L172.97 807.67 L173.33 808.57 L173.70 807.91 L174.06 808.87 L174.43 809.63 L174.79 809.78 L175.16 810.66 L175.52 811.41 L175.88 811.59 L176.25 812.40 L176.61 812.52 L176.98 813.03 L177.34 813.23 L177.71 813.41 L178.07 813.63 L178.44 813.74 L178.80 813.84 L179.17 814.00 L179.53 814.00 L179.89 814.00 L180.26 814.00 L180.62 814.00 L180.99 814.00 L181.35 814.00 L181.72 814.00 L182.08 814.00 L182.45 814.00 L182.81 814.00 L183.18 814.00 L183.54 814.00 L183.90 814.00 L184.27 814.00 L184.63 814.00 L185.00 814.00 L185.36 814.00 L185.73 814.00 L186.09 814.00 L186.46 814.00 L186.82 814.00 L187.18 814.00 L187.55 814.00 L187.91 814.00 L188.28 814.00 L188.64 814.00 L189.01 814.00 L189.37 814.00 L189.74 814.00 L190.10 814.00 L190.47 814.00 L190.83 814.00 L191.19 814.00 L191.56 814.00 L191.92 814.00 L192.29 814.00 L192.65 814.00 L193.02 814.00 L193.38 814.00 L193.75 814.00 L194.11 814.00 L194.47 814.00 L194.84 814.00 L195.20 814.00 L195.57 814.00 L195.93 814.00 L196.30 814.00 L196.66 814.00 L197.03 814.00 L197.39 814.00 L197.75 814.00 L198.12 814.00 L198.48 814.00 L198.85 814.00 L199.21 814.00 L199.58 814.00 L199.94 814.00 L200.31 814.00 L200.67 814.00 L201.04 814.00 L201.40 814.00 L201.40 814.00 Z" fill="#111"/>
<rect x="128.50" y="757.50" width="121.50" height="56.50" fill="none" stroke="#4a4a4a" stroke-width="0.85"/>
<text x="125.2" y="817.0" font-size="7.8" text-anchor="end" font-weight="normal" fill="#1c1c1c">0</text>
<text x="125.2" y="805.7" font-size="7.8" text-anchor="end" font-weight="normal" fill="#1c1c1c">120</text>
<text x="125.2" y="794.4" font-size="7.8" text-anchor="end" font-weight="normal" fill="#1c1c1c">240</text>
<text x="125.2" y="783.1" font-size="7.8" text-anchor="end" font-weight="normal" fill="#1c1c1c">360</text>
<text x="125.2" y="771.8" font-size="7.8" text-anchor="end" font-weight="normal" fill="#1c1c1c">480</text>
<text x="125.2" y="760.5" font-size="7.8" text-anchor="end" font-weight="normal" fill="#1c1c1c">600</text>
<text x="128.5" y="822.8" font-size="7.8" text-anchor="middle" font-weight="normal" fill="#1c1c1c">0</text>
<text x="152.3" y="822.8" font-size="7.8" text-anchor="middle" font-weight="normal" fill="#1c1c1c">200</text>
<text x="176.0" y="822.8" font-size="7.8" text-anchor="middle" font-weight="normal" fill="#1c1c1c">400</text>
<text x="199.8" y="822.8" font-size="7.8" text-anchor="middle" font-weight="normal" fill="#1c1c1c">600</text>
<text x="223.5" y="822.8" font-size="7.8" text-anchor="middle" font-weight="normal" fill="#1c1c1c">800</text>
<text x="247.3" y="822.8" font-size="7.8" text-anchor="middle" font-weight="normal" fill="#1c1c1c">1000</text>
<text x="188.8" y="830.4" font-size="7.8" text-anchor="middle" font-weight="normal" fill="#1c1c1c">FL2-A</text>
<text x="109.5" y="786.8" font-size="7.8" text-anchor="middle" font-weight="normal" fill="#1c1c1c" transform="rotate(-90 109.5 786.75)">Counts</text>
<text x="20.6" y="787.0" font-size="10.7" text-anchor="end" font-weight="normal" fill="#1c1c1c">32 h</text>
<text x="27.3" y="776.5" font-size="10.7" text-anchor="start" font-weight="normal" fill="#1c1c1c">G1:</text>
<text x="98.3" y="776.5" font-size="10.7" text-anchor="end" font-weight="normal" fill="#1c1c1c">62.4%</text>
<text x="27.3" y="787.0" font-size="10.7" text-anchor="start" font-weight="normal" fill="#1c1c1c">S:</text>
<text x="98.3" y="787.0" font-size="10.7" text-anchor="end" font-weight="normal" fill="#1c1c1c">8.7%</text>
<text x="27.3" y="797.5" font-size="10.7" text-anchor="start" font-weight="normal" fill="#1c1c1c">G2/M:</text>
<text x="98.3" y="797.5" font-size="10.7" text-anchor="end" font-weight="normal" fill="#1c1c1c">26.9%</text>
<text x="271.3" y="271.4" font-size="15.5" text-anchor="start" font-weight="bold" fill="#111">C</text>
<line x1="316.50" y1="269.50" x2="316.50" y2="355.35" stroke="#444" stroke-width="1.05"/>
<line x1="314.70" y1="354.85" x2="470.06" y2="354.85" stroke="#444" stroke-width="1.05"/>
<line x1="314.70" y1="354.85" x2="316.50" y2="354.85" stroke="#3a3a3a" stroke-width="0.9"/>
<text x="311.1" y="357.6" font-size="10.1" text-anchor="end" font-weight="normal" fill="#1c1c1c">0</text>
<line x1="314.70" y1="342.73" x2="316.50" y2="342.73" stroke="#3a3a3a" stroke-width="0.9"/>
<text x="311.1" y="345.4" font-size="10.1" text-anchor="end" font-weight="normal" fill="#1c1c1c">2</text>
<line x1="314.70" y1="330.61" x2="316.50" y2="330.61" stroke="#3a3a3a" stroke-width="0.9"/>
<text x="311.1" y="333.3" font-size="10.1" text-anchor="end" font-weight="normal" fill="#1c1c1c">4</text>
<line x1="314.70" y1="318.49" x2="316.50" y2="318.49" stroke="#3a3a3a" stroke-width="0.9"/>
<text x="311.1" y="321.2" font-size="10.1" text-anchor="end" font-weight="normal" fill="#1c1c1c">6</text>
<line x1="314.70" y1="306.36" x2="316.50" y2="306.36" stroke="#3a3a3a" stroke-width="0.9"/>
<text x="311.1" y="309.1" font-size="10.1" text-anchor="end" font-weight="normal" fill="#1c1c1c">8</text>
<line x1="314.70" y1="294.24" x2="316.50" y2="294.24" stroke="#3a3a3a" stroke-width="0.9"/>
<text x="311.1" y="296.9" font-size="10.1" text-anchor="end" font-weight="normal" fill="#1c1c1c">10</text>
<line x1="314.70" y1="282.12" x2="316.50" y2="282.12" stroke="#3a3a3a" stroke-width="0.9"/>
<text x="311.1" y="284.8" font-size="10.1" text-anchor="end" font-weight="normal" fill="#1c1c1c">12</text>
<line x1="314.70" y1="270.00" x2="316.50" y2="270.00" stroke="#3a3a3a" stroke-width="0.9"/>
<text x="311.1" y="272.7" font-size="10.1" text-anchor="end" font-weight="normal" fill="#1c1c1c">14</text>
<line x1="325.60" y1="354.85" x2="325.60" y2="356.85" stroke="#3a3a3a" stroke-width="0.8"/>
<line x1="342.97" y1="354.85" x2="342.97" y2="356.85" stroke="#3a3a3a" stroke-width="0.8"/>
<line x1="360.34" y1="354.85" x2="360.34" y2="356.85" stroke="#3a3a3a" stroke-width="0.8"/>
<line x1="377.71" y1="354.85" x2="377.71" y2="356.85" stroke="#3a3a3a" stroke-width="0.8"/>
<line x1="395.08" y1="354.85" x2="395.08" y2="356.85" stroke="#3a3a3a" stroke-width="0.8"/>
<line x1="412.45" y1="354.85" x2="412.45" y2="356.85" stroke="#3a3a3a" stroke-width="0.8"/>
<line x1="429.82" y1="354.85" x2="429.82" y2="356.85" stroke="#3a3a3a" stroke-width="0.8"/>
<line x1="447.19" y1="354.85" x2="447.19" y2="356.85" stroke="#3a3a3a" stroke-width="0.8"/>
<line x1="464.56" y1="354.85" x2="464.56" y2="356.85" stroke="#3a3a3a" stroke-width="0.8"/>
<path d="M325.60 348.79 L342.97 351.82 L360.34 350.61 L377.71 335.46 L395.08 308.18 L412.45 315.46 L429.82 323.33 L447.19 322.12 L464.56 277.27" fill="none" stroke="#2a2a2a" stroke-width="0.95"/>
<line x1="325.60" y1="348.18" x2="325.60" y2="349.40" stroke="#2a2a2a" stroke-width="0.8"/>
<line x1="323.70" y1="348.18" x2="327.50" y2="348.18" stroke="#2a2a2a" stroke-width="0.8"/>
<line x1="323.70" y1="349.40" x2="327.50" y2="349.40" stroke="#2a2a2a" stroke-width="0.8"/>
<rect x="324.50" y="347.69" width="2.20" height="2.20" fill="#222" stroke="none" stroke-width="1"/>
<line x1="342.97" y1="351.21" x2="342.97" y2="352.43" stroke="#2a2a2a" stroke-width="0.8"/>
<line x1="341.07" y1="351.21" x2="344.87" y2="351.21" stroke="#2a2a2a" stroke-width="0.8"/>
<line x1="341.07" y1="352.43" x2="344.87" y2="352.43" stroke="#2a2a2a" stroke-width="0.8"/>
<rect x="341.87" y="350.72" width="2.20" height="2.20" fill="#222" stroke="none" stroke-width="1"/>
<line x1="360.34" y1="347.58" x2="360.34" y2="353.64" stroke="#2a2a2a" stroke-width="0.8"/>
<line x1="358.44" y1="347.58" x2="362.24" y2="347.58" stroke="#2a2a2a" stroke-width="0.8"/>
<line x1="358.44" y1="353.64" x2="362.24" y2="353.64" stroke="#2a2a2a" stroke-width="0.8"/>
<rect x="359.24" y="349.51" width="2.20" height="2.20" fill="#222" stroke="none" stroke-width="1"/>
<line x1="377.71" y1="334.55" x2="377.71" y2="336.36" stroke="#2a2a2a" stroke-width="0.8"/>
<line x1="375.81" y1="334.55" x2="379.61" y2="334.55" stroke="#2a2a2a" stroke-width="0.8"/>
<line x1="375.81" y1="336.36" x2="379.61" y2="336.36" stroke="#2a2a2a" stroke-width="0.8"/>
<rect x="376.61" y="334.36" width="2.20" height="2.20" fill="#222" stroke="none" stroke-width="1"/>
<line x1="395.08" y1="306.36" x2="395.08" y2="310.00" stroke="#2a2a2a" stroke-width="0.8"/>
<line x1="393.18" y1="306.36" x2="396.98" y2="306.36" stroke="#2a2a2a" stroke-width="0.8"/>
<line x1="393.18" y1="310.00" x2="396.98" y2="310.00" stroke="#2a2a2a" stroke-width="0.8"/>
<rect x="393.98" y="307.08" width="2.20" height="2.20" fill="#222" stroke="none" stroke-width="1"/>
<line x1="412.45" y1="314.55" x2="412.45" y2="316.36" stroke="#2a2a2a" stroke-width="0.8"/>
<line x1="410.55" y1="314.55" x2="414.35" y2="314.55" stroke="#2a2a2a" stroke-width="0.8"/>
<line x1="410.55" y1="316.36" x2="414.35" y2="316.36" stroke="#2a2a2a" stroke-width="0.8"/>
<rect x="411.35" y="314.36" width="2.20" height="2.20" fill="#222" stroke="none" stroke-width="1"/>
<line x1="429.82" y1="322.12" x2="429.82" y2="324.55" stroke="#2a2a2a" stroke-width="0.8"/>
<line x1="427.92" y1="322.12" x2="431.72" y2="322.12" stroke="#2a2a2a" stroke-width="0.8"/>
<line x1="427.92" y1="324.55" x2="431.72" y2="324.55" stroke="#2a2a2a" stroke-width="0.8"/>
<rect x="428.72" y="322.23" width="2.20" height="2.20" fill="#222" stroke="none" stroke-width="1"/>
<line x1="447.19" y1="319.70" x2="447.19" y2="324.55" stroke="#2a2a2a" stroke-width="0.8"/>
<line x1="445.29" y1="319.70" x2="449.09" y2="319.70" stroke="#2a2a2a" stroke-width="0.8"/>
<line x1="445.29" y1="324.55" x2="449.09" y2="324.55" stroke="#2a2a2a" stroke-width="0.8"/>
<rect x="446.09" y="321.02" width="2.20" height="2.20" fill="#222" stroke="none" stroke-width="1"/>
<line x1="464.56" y1="275.45" x2="464.56" y2="279.09" stroke="#2a2a2a" stroke-width="0.8"/>
<line x1="462.66" y1="275.45" x2="466.46" y2="275.45" stroke="#2a2a2a" stroke-width="0.8"/>
<line x1="462.66" y1="279.09" x2="466.46" y2="279.09" stroke="#2a2a2a" stroke-width="0.8"/>
<rect x="463.46" y="276.17" width="2.20" height="2.20" fill="#222" stroke="none" stroke-width="1"/>
<text x="325.1" y="367.2" font-size="10.7" text-anchor="middle" font-weight="normal" fill="#1c1c1c">Q</text>
<text x="342.5" y="367.2" font-size="10.7" text-anchor="middle" font-weight="normal" fill="#1c1c1c">4</text>
<text x="359.8" y="367.2" font-size="10.7" text-anchor="middle" font-weight="normal" fill="#1c1c1c">8</text>
<text x="377.2" y="367.2" font-size="10.7" text-anchor="middle" font-weight="normal" fill="#1c1c1c">13</text>
<text x="394.6" y="367.2" font-size="10.7" text-anchor="middle" font-weight="normal" fill="#1c1c1c">16</text>
<text x="412.0" y="367.2" font-size="10.7" text-anchor="middle" font-weight="normal" fill="#1c1c1c">20</text>
<text x="429.3" y="367.2" font-size="10.7" text-anchor="middle" font-weight="normal" fill="#1c1c1c">24</text>
<text x="446.7" y="367.2" font-size="10.7" text-anchor="middle" font-weight="normal" fill="#1c1c1c">28</text>
<text x="464.1" y="367.2" font-size="10.7" text-anchor="middle" font-weight="normal" fill="#1c1c1c">32</text>
<text x="395.0" y="379.9" font-size="10.85" text-anchor="middle" font-weight="normal" fill="#1c1c1c">Time after serum stimulation (h)</text>
<text x="321.0" y="282.6" font-size="10.7" text-anchor="start" font-weight="normal" fill="#1c1c1c">Cyclin A2</text>
<text x="282.0" y="314.8" font-size="10.7" text-anchor="middle" font-weight="normal" fill="#1c1c1c" transform="rotate(-90 282 314.8)">Expression</text>
<text x="294.6" y="314.8" font-size="10.7" text-anchor="middle" font-weight="normal" fill="#1c1c1c" transform="rotate(-90 294.6 314.8)">(relative to GAPDH)</text>
<line x1="523.90" y1="276.00" x2="523.90" y2="355.40" stroke="#444" stroke-width="1.05"/>
<line x1="522.10" y1="354.90" x2="681.50" y2="354.90" stroke="#444" stroke-width="1.05"/>
<line x1="522.10" y1="354.90" x2="523.90" y2="354.90" stroke="#3a3a3a" stroke-width="0.9"/>
<text x="517.9" y="358.6" font-size="10.7" text-anchor="end" font-weight="normal" fill="#1c1c1c">0</text>
<line x1="522.10" y1="341.83" x2="523.90" y2="341.83" stroke="#3a3a3a" stroke-width="0.9"/>
<text x="517.9" y="345.5" font-size="10.7" text-anchor="end" font-weight="normal" fill="#1c1c1c">1</text>
<line x1="522.10" y1="328.77" x2="523.90" y2="328.77" stroke="#3a3a3a" stroke-width="0.9"/>
<text x="517.9" y="332.5" font-size="10.7" text-anchor="end" font-weight="normal" fill="#1c1c1c">2</text>
<line x1="522.10" y1="315.70" x2="523.90" y2="315.70" stroke="#3a3a3a" stroke-width="0.9"/>
<text x="517.9" y="319.4" font-size="10.7" text-anchor="end" font-weight="normal" fill="#1c1c1c">3</text>
<line x1="522.10" y1="302.63" x2="523.90" y2="302.63" stroke="#3a3a3a" stroke-width="0.9"/>
<text x="517.9" y="306.3" font-size="10.7" text-anchor="end" font-weight="normal" fill="#1c1c1c">4</text>
<line x1="522.10" y1="289.57" x2="523.90" y2="289.57" stroke="#3a3a3a" stroke-width="0.9"/>
<text x="517.9" y="293.3" font-size="10.7" text-anchor="end" font-weight="normal" fill="#1c1c1c">5</text>
<line x1="522.10" y1="276.50" x2="523.90" y2="276.50" stroke="#3a3a3a" stroke-width="0.9"/>
<text x="517.9" y="280.2" font-size="10.7" text-anchor="end" font-weight="normal" fill="#1c1c1c">6</text>
<line x1="533.00" y1="354.90" x2="533.00" y2="356.90" stroke="#3a3a3a" stroke-width="0.8"/>
<line x1="550.40" y1="354.90" x2="550.40" y2="356.90" stroke="#3a3a3a" stroke-width="0.8"/>
<line x1="567.70" y1="354.90" x2="567.70" y2="356.90" stroke="#3a3a3a" stroke-width="0.8"/>
<line x1="586.30" y1="354.90" x2="586.30" y2="356.90" stroke="#3a3a3a" stroke-width="0.8"/>
<line x1="604.10" y1="354.90" x2="604.10" y2="356.90" stroke="#3a3a3a" stroke-width="0.8"/>
<line x1="621.80" y1="354.90" x2="621.80" y2="356.90" stroke="#3a3a3a" stroke-width="0.8"/>
<line x1="639.30" y1="354.90" x2="639.30" y2="356.90" stroke="#3a3a3a" stroke-width="0.8"/>
<line x1="657.10" y1="354.90" x2="657.10" y2="356.90" stroke="#3a3a3a" stroke-width="0.8"/>
<line x1="676.00" y1="354.90" x2="676.00" y2="356.90" stroke="#3a3a3a" stroke-width="0.8"/>
<path d="M533.00 341.83 L550.40 345.49 L567.70 346.41 L586.30 316.35 L604.10 298.71 L621.80 293.49 L639.30 295.45 L657.10 290.87 L676.00 312.43" fill="none" stroke="#2a2a2a" stroke-width="0.95"/>
<line x1="533.00" y1="341.05" x2="533.00" y2="342.62" stroke="#2a2a2a" stroke-width="0.8"/>
<line x1="531.10" y1="341.05" x2="534.90" y2="341.05" stroke="#2a2a2a" stroke-width="0.8"/>
<line x1="531.10" y1="342.62" x2="534.90" y2="342.62" stroke="#2a2a2a" stroke-width="0.8"/>
<rect x="531.90" y="340.73" width="2.20" height="2.20" fill="#222" stroke="none" stroke-width="1"/>
<line x1="550.40" y1="344.84" x2="550.40" y2="346.15" stroke="#2a2a2a" stroke-width="0.8"/>
<line x1="548.50" y1="344.84" x2="552.30" y2="344.84" stroke="#2a2a2a" stroke-width="0.8"/>
<line x1="548.50" y1="346.15" x2="552.30" y2="346.15" stroke="#2a2a2a" stroke-width="0.8"/>
<rect x="549.30" y="344.39" width="2.20" height="2.20" fill="#222" stroke="none" stroke-width="1"/>
<line x1="567.70" y1="344.84" x2="567.70" y2="347.97" stroke="#2a2a2a" stroke-width="0.8"/>
<line x1="565.80" y1="344.84" x2="569.60" y2="344.84" stroke="#2a2a2a" stroke-width="0.8"/>
<line x1="565.80" y1="347.97" x2="569.60" y2="347.97" stroke="#2a2a2a" stroke-width="0.8"/>
<rect x="566.60" y="345.31" width="2.20" height="2.20" fill="#222" stroke="none" stroke-width="1"/>
<line x1="586.30" y1="315.31" x2="586.30" y2="317.40" stroke="#2a2a2a" stroke-width="0.8"/>
<line x1="584.40" y1="315.31" x2="588.20" y2="315.31" stroke="#2a2a2a" stroke-width="0.8"/>
<line x1="584.40" y1="317.40" x2="588.20" y2="317.40" stroke="#2a2a2a" stroke-width="0.8"/>
<rect x="585.20" y="315.25" width="2.20" height="2.20" fill="#222" stroke="none" stroke-width="1"/>
<line x1="604.10" y1="297.15" x2="604.10" y2="300.28" stroke="#2a2a2a" stroke-width="0.8"/>
<line x1="602.20" y1="297.15" x2="606.00" y2="297.15" stroke="#2a2a2a" stroke-width="0.8"/>
<line x1="602.20" y1="300.28" x2="606.00" y2="300.28" stroke="#2a2a2a" stroke-width="0.8"/>
<rect x="603.00" y="297.61" width="2.20" height="2.20" fill="#222" stroke="none" stroke-width="1"/>
<line x1="621.80" y1="291.92" x2="621.80" y2="295.05" stroke="#2a2a2a" stroke-width="0.8"/>
<line x1="619.90" y1="291.92" x2="623.70" y2="291.92" stroke="#2a2a2a" stroke-width="0.8"/>
<line x1="619.90" y1="295.05" x2="623.70" y2="295.05" stroke="#2a2a2a" stroke-width="0.8"/>
<rect x="620.70" y="292.39" width="2.20" height="2.20" fill="#222" stroke="none" stroke-width="1"/>
<line x1="639.30" y1="294.66" x2="639.30" y2="296.23" stroke="#2a2a2a" stroke-width="0.8"/>
<line x1="637.40" y1="294.66" x2="641.20" y2="294.66" stroke="#2a2a2a" stroke-width="0.8"/>
<line x1="637.40" y1="296.23" x2="641.20" y2="296.23" stroke="#2a2a2a" stroke-width="0.8"/>
<rect x="638.20" y="294.35" width="2.20" height="2.20" fill="#222" stroke="none" stroke-width="1"/>
<line x1="657.10" y1="290.22" x2="657.10" y2="291.53" stroke="#2a2a2a" stroke-width="0.8"/>
<line x1="655.20" y1="290.22" x2="659.00" y2="290.22" stroke="#2a2a2a" stroke-width="0.8"/>
<line x1="655.20" y1="291.53" x2="659.00" y2="291.53" stroke="#2a2a2a" stroke-width="0.8"/>
<rect x="656.00" y="289.77" width="2.20" height="2.20" fill="#222" stroke="none" stroke-width="1"/>
<line x1="676.00" y1="311.52" x2="676.00" y2="313.35" stroke="#2a2a2a" stroke-width="0.8"/>
<line x1="674.10" y1="311.52" x2="677.90" y2="311.52" stroke="#2a2a2a" stroke-width="0.8"/>
<line x1="674.10" y1="313.35" x2="677.90" y2="313.35" stroke="#2a2a2a" stroke-width="0.8"/>
<rect x="674.90" y="311.33" width="2.20" height="2.20" fill="#222" stroke="none" stroke-width="1"/>
<text x="533.0" y="367.2" font-size="10.7" text-anchor="middle" font-weight="normal" fill="#1c1c1c">Q</text>
<text x="550.3" y="367.2" font-size="10.7" text-anchor="middle" font-weight="normal" fill="#1c1c1c">4</text>
<text x="567.7" y="367.2" font-size="10.7" text-anchor="middle" font-weight="normal" fill="#1c1c1c">8</text>
<text x="585.8" y="367.2" font-size="10.7" text-anchor="middle" font-weight="normal" fill="#1c1c1c">13</text>
<text x="603.6" y="367.2" font-size="10.7" text-anchor="middle" font-weight="normal" fill="#1c1c1c">16</text>
<text x="621.8" y="367.2" font-size="10.7" text-anchor="middle" font-weight="normal" fill="#1c1c1c">20</text>
<text x="639.3" y="367.2" font-size="10.7" text-anchor="middle" font-weight="normal" fill="#1c1c1c">24</text>
<text x="656.8" y="367.2" font-size="10.7" text-anchor="middle" font-weight="normal" fill="#1c1c1c">28</text>
<text x="678.2" y="367.2" font-size="10.7" text-anchor="middle" font-weight="normal" fill="#1c1c1c">32</text>
<text x="602.5" y="379.9" font-size="10.85" text-anchor="middle" font-weight="normal" fill="#1c1c1c">Time after serum stimulation (h)</text>
<text x="531.5" y="282.3" font-size="10.7" text-anchor="start" font-weight="normal" fill="#1c1c1c">cdc2</text>
<text x="492.6" y="315.0" font-size="10.7" text-anchor="middle" font-weight="normal" fill="#1c1c1c" transform="rotate(-90 492.6 315)">Expression</text>
<text x="507.1" y="315.0" font-size="10.7" text-anchor="middle" font-weight="normal" fill="#1c1c1c" transform="rotate(-90 507.1 315)">(relative to GAPDH)</text>
<line x1="316.50" y1="389.70" x2="316.50" y2="474.90" stroke="#444" stroke-width="1.05"/>
<line x1="314.70" y1="474.40" x2="470.06" y2="474.40" stroke="#444" stroke-width="1.05"/>
<line x1="314.70" y1="474.40" x2="316.50" y2="474.40" stroke="#3a3a3a" stroke-width="0.9"/>
<text x="312.7" y="478.1" font-size="10.7" text-anchor="end" font-weight="normal" fill="#1c1c1c">0</text>
<line x1="315.10" y1="465.98" x2="316.50" y2="465.98" stroke="#555" stroke-width="0.7"/>
<line x1="314.70" y1="457.56" x2="316.50" y2="457.56" stroke="#3a3a3a" stroke-width="0.9"/>
<text x="312.7" y="461.3" font-size="10.7" text-anchor="end" font-weight="normal" fill="#1c1c1c">2</text>
<line x1="315.10" y1="449.14" x2="316.50" y2="449.14" stroke="#555" stroke-width="0.7"/>
<line x1="314.70" y1="440.72" x2="316.50" y2="440.72" stroke="#3a3a3a" stroke-width="0.9"/>
<text x="312.7" y="444.4" font-size="10.7" text-anchor="end" font-weight="normal" fill="#1c1c1c">4</text>
<line x1="315.10" y1="432.30" x2="316.50" y2="432.30" stroke="#555" stroke-width="0.7"/>
<line x1="314.70" y1="423.88" x2="316.50" y2="423.88" stroke="#3a3a3a" stroke-width="0.9"/>
<text x="312.7" y="427.6" font-size="10.7" text-anchor="end" font-weight="normal" fill="#1c1c1c">6</text>
<line x1="315.10" y1="415.46" x2="316.50" y2="415.46" stroke="#555" stroke-width="0.7"/>
<line x1="314.70" y1="407.04" x2="316.50" y2="407.04" stroke="#3a3a3a" stroke-width="0.9"/>
<text x="312.7" y="410.7" font-size="10.7" text-anchor="end" font-weight="normal" fill="#1c1c1c">8</text>
<line x1="315.10" y1="398.62" x2="316.50" y2="398.62" stroke="#555" stroke-width="0.7"/>
<line x1="314.70" y1="390.20" x2="316.50" y2="390.20" stroke="#3a3a3a" stroke-width="0.9"/>
<text x="312.7" y="393.9" font-size="10.7" text-anchor="end" font-weight="normal" fill="#1c1c1c">10</text>
<line x1="325.60" y1="474.40" x2="325.60" y2="476.40" stroke="#3a3a3a" stroke-width="0.8"/>
<line x1="342.97" y1="474.40" x2="342.97" y2="476.40" stroke="#3a3a3a" stroke-width="0.8"/>
<line x1="360.34" y1="474.40" x2="360.34" y2="476.40" stroke="#3a3a3a" stroke-width="0.8"/>
<line x1="377.71" y1="474.40" x2="377.71" y2="476.40" stroke="#3a3a3a" stroke-width="0.8"/>
<line x1="395.08" y1="474.40" x2="395.08" y2="476.40" stroke="#3a3a3a" stroke-width="0.8"/>
<line x1="412.45" y1="474.40" x2="412.45" y2="476.40" stroke="#3a3a3a" stroke-width="0.8"/>
<line x1="429.82" y1="474.40" x2="429.82" y2="476.40" stroke="#3a3a3a" stroke-width="0.8"/>
<line x1="447.19" y1="474.40" x2="447.19" y2="476.40" stroke="#3a3a3a" stroke-width="0.8"/>
<line x1="464.56" y1="474.40" x2="464.56" y2="476.40" stroke="#3a3a3a" stroke-width="0.8"/>
<path d="M325.60 465.98 L342.97 468.51 L360.34 465.98 L377.71 460.09 L395.08 442.40 L412.45 435.67 L429.82 432.30 L447.19 415.46 L464.56 398.62" fill="none" stroke="#2a2a2a" stroke-width="0.95"/>
<line x1="325.60" y1="464.30" x2="325.60" y2="467.66" stroke="#2a2a2a" stroke-width="0.8"/>
<line x1="323.70" y1="464.30" x2="327.50" y2="464.30" stroke="#2a2a2a" stroke-width="0.8"/>
<line x1="323.70" y1="467.66" x2="327.50" y2="467.66" stroke="#2a2a2a" stroke-width="0.8"/>
<rect x="324.50" y="464.88" width="2.20" height="2.20" fill="#222" stroke="none" stroke-width="1"/>
<line x1="342.97" y1="467.24" x2="342.97" y2="469.77" stroke="#2a2a2a" stroke-width="0.8"/>
<line x1="341.07" y1="467.24" x2="344.87" y2="467.24" stroke="#2a2a2a" stroke-width="0.8"/>
<line x1="341.07" y1="469.77" x2="344.87" y2="469.77" stroke="#2a2a2a" stroke-width="0.8"/>
<rect x="341.87" y="467.41" width="2.20" height="2.20" fill="#222" stroke="none" stroke-width="1"/>
<line x1="360.34" y1="463.03" x2="360.34" y2="468.93" stroke="#2a2a2a" stroke-width="0.8"/>
<line x1="358.44" y1="463.03" x2="362.24" y2="463.03" stroke="#2a2a2a" stroke-width="0.8"/>
<line x1="358.44" y1="468.93" x2="362.24" y2="468.93" stroke="#2a2a2a" stroke-width="0.8"/>
<rect x="359.24" y="464.88" width="2.20" height="2.20" fill="#222" stroke="none" stroke-width="1"/>
<line x1="377.71" y1="459.08" x2="377.71" y2="461.10" stroke="#2a2a2a" stroke-width="0.8"/>
<line x1="375.81" y1="459.08" x2="379.61" y2="459.08" stroke="#2a2a2a" stroke-width="0.8"/>
<line x1="375.81" y1="461.10" x2="379.61" y2="461.10" stroke="#2a2a2a" stroke-width="0.8"/>
<rect x="376.61" y="458.99" width="2.20" height="2.20" fill="#222" stroke="none" stroke-width="1"/>
<line x1="395.08" y1="440.72" x2="395.08" y2="444.09" stroke="#2a2a2a" stroke-width="0.8"/>
<line x1="393.18" y1="440.72" x2="396.98" y2="440.72" stroke="#2a2a2a" stroke-width="0.8"/>
<line x1="393.18" y1="444.09" x2="396.98" y2="444.09" stroke="#2a2a2a" stroke-width="0.8"/>
<rect x="393.98" y="441.30" width="2.20" height="2.20" fill="#222" stroke="none" stroke-width="1"/>
<line x1="412.45" y1="433.98" x2="412.45" y2="437.35" stroke="#2a2a2a" stroke-width="0.8"/>
<line x1="410.55" y1="433.98" x2="414.35" y2="433.98" stroke="#2a2a2a" stroke-width="0.8"/>
<line x1="410.55" y1="437.35" x2="414.35" y2="437.35" stroke="#2a2a2a" stroke-width="0.8"/>
<rect x="411.35" y="434.57" width="2.20" height="2.20" fill="#222" stroke="none" stroke-width="1"/>
<line x1="429.82" y1="431.04" x2="429.82" y2="433.56" stroke="#2a2a2a" stroke-width="0.8"/>
<line x1="427.92" y1="431.04" x2="431.72" y2="431.04" stroke="#2a2a2a" stroke-width="0.8"/>
<line x1="427.92" y1="433.56" x2="431.72" y2="433.56" stroke="#2a2a2a" stroke-width="0.8"/>
<rect x="428.72" y="431.20" width="2.20" height="2.20" fill="#222" stroke="none" stroke-width="1"/>
<line x1="447.19" y1="413.78" x2="447.19" y2="417.14" stroke="#2a2a2a" stroke-width="0.8"/>
<line x1="445.29" y1="413.78" x2="449.09" y2="413.78" stroke="#2a2a2a" stroke-width="0.8"/>
<line x1="445.29" y1="417.14" x2="449.09" y2="417.14" stroke="#2a2a2a" stroke-width="0.8"/>
<rect x="446.09" y="414.36" width="2.20" height="2.20" fill="#222" stroke="none" stroke-width="1"/>
<line x1="464.56" y1="396.51" x2="464.56" y2="400.73" stroke="#2a2a2a" stroke-width="0.8"/>
<line x1="462.66" y1="396.51" x2="466.46" y2="396.51" stroke="#2a2a2a" stroke-width="0.8"/>
<line x1="462.66" y1="400.73" x2="466.46" y2="400.73" stroke="#2a2a2a" stroke-width="0.8"/>
<rect x="463.46" y="397.52" width="2.20" height="2.20" fill="#222" stroke="none" stroke-width="1"/>
<text x="325.1" y="485.7" font-size="10.7" text-anchor="middle" font-weight="normal" fill="#1c1c1c">Q</text>
<text x="342.5" y="485.7" font-size="10.7" text-anchor="middle" font-weight="normal" fill="#1c1c1c">4</text>
<text x="359.8" y="485.7" font-size="10.7" text-anchor="middle" font-weight="normal" fill="#1c1c1c">8</text>
<text x="377.2" y="485.7" font-size="10.7" text-anchor="middle" font-weight="normal" fill="#1c1c1c">13</text>
<text x="394.6" y="485.7" font-size="10.7" text-anchor="middle" font-weight="normal" fill="#1c1c1c">16</text>
<text x="412.0" y="485.7" font-size="10.7" text-anchor="middle" font-weight="normal" fill="#1c1c1c">20</text>
<text x="429.3" y="485.7" font-size="10.7" text-anchor="middle" font-weight="normal" fill="#1c1c1c">24</text>
<text x="446.7" y="485.7" font-size="10.7" text-anchor="middle" font-weight="normal" fill="#1c1c1c">28</text>
<text x="464.1" y="485.7" font-size="10.7" text-anchor="middle" font-weight="normal" fill="#1c1c1c">32</text>
<text x="395.0" y="498.4" font-size="10.85" text-anchor="middle" font-weight="normal" fill="#1c1c1c">Time after serum stimulation (h)</text>
<text x="321.0" y="403.2" font-size="10.7" text-anchor="start" font-weight="normal" fill="#1c1c1c">CyclinB1</text>
<text x="282.0" y="433.0" font-size="10.7" text-anchor="middle" font-weight="normal" fill="#1c1c1c" transform="rotate(-90 282 433)">Expression</text>
<text x="294.6" y="433.0" font-size="10.7" text-anchor="middle" font-weight="normal" fill="#1c1c1c" transform="rotate(-90 294.6 433)">(relative to GAPDH)</text>
<line x1="523.90" y1="394.80" x2="523.90" y2="473.70" stroke="#444" stroke-width="1.05"/>
<line x1="522.10" y1="473.20" x2="681.50" y2="473.20" stroke="#444" stroke-width="1.05"/>
<line x1="522.10" y1="473.20" x2="523.90" y2="473.20" stroke="#3a3a3a" stroke-width="0.9"/>
<text x="517.9" y="476.9" font-size="10.7" text-anchor="end" font-weight="normal" fill="#1c1c1c">0</text>
<line x1="522.10" y1="457.62" x2="523.90" y2="457.62" stroke="#3a3a3a" stroke-width="0.9"/>
<text x="517.9" y="461.3" font-size="10.7" text-anchor="end" font-weight="normal" fill="#1c1c1c">0.5</text>
<line x1="522.10" y1="442.04" x2="523.90" y2="442.04" stroke="#3a3a3a" stroke-width="0.9"/>
<text x="517.9" y="445.7" font-size="10.7" text-anchor="end" font-weight="normal" fill="#1c1c1c">1.0</text>
<line x1="522.10" y1="426.46" x2="523.90" y2="426.46" stroke="#3a3a3a" stroke-width="0.9"/>
<text x="517.9" y="430.2" font-size="10.7" text-anchor="end" font-weight="normal" fill="#1c1c1c">1.5</text>
<line x1="522.10" y1="410.88" x2="523.90" y2="410.88" stroke="#3a3a3a" stroke-width="0.9"/>
<text x="517.9" y="414.6" font-size="10.7" text-anchor="end" font-weight="normal" fill="#1c1c1c">2.0</text>
<line x1="522.10" y1="395.30" x2="523.90" y2="395.30" stroke="#3a3a3a" stroke-width="0.9"/>
<text x="517.9" y="399.0" font-size="10.7" text-anchor="end" font-weight="normal" fill="#1c1c1c">2.5</text>
<line x1="533.00" y1="473.20" x2="533.00" y2="475.20" stroke="#3a3a3a" stroke-width="0.8"/>
<line x1="550.40" y1="473.20" x2="550.40" y2="475.20" stroke="#3a3a3a" stroke-width="0.8"/>
<line x1="567.70" y1="473.20" x2="567.70" y2="475.20" stroke="#3a3a3a" stroke-width="0.8"/>
<line x1="586.30" y1="473.20" x2="586.30" y2="475.20" stroke="#3a3a3a" stroke-width="0.8"/>
<line x1="604.10" y1="473.20" x2="604.10" y2="475.20" stroke="#3a3a3a" stroke-width="0.8"/>
<line x1="621.80" y1="473.20" x2="621.80" y2="475.20" stroke="#3a3a3a" stroke-width="0.8"/>
<line x1="639.30" y1="473.20" x2="639.30" y2="475.20" stroke="#3a3a3a" stroke-width="0.8"/>
<line x1="657.10" y1="473.20" x2="657.10" y2="475.20" stroke="#3a3a3a" stroke-width="0.8"/>
<line x1="676.00" y1="473.20" x2="676.00" y2="475.20" stroke="#3a3a3a" stroke-width="0.8"/>
<path d="M533.00 442.04 L550.40 423.34 L567.70 405.58 L586.30 411.50 L604.10 408.70 L621.80 432.69 L639.30 442.04 L657.10 446.09 L676.00 439.55" fill="none" stroke="#2a2a2a" stroke-width="0.95"/>
<line x1="533.00" y1="436.43" x2="533.00" y2="447.65" stroke="#2a2a2a" stroke-width="0.8"/>
<line x1="531.10" y1="436.43" x2="534.90" y2="436.43" stroke="#2a2a2a" stroke-width="0.8"/>
<line x1="531.10" y1="447.65" x2="534.90" y2="447.65" stroke="#2a2a2a" stroke-width="0.8"/>
<rect x="531.90" y="440.94" width="2.20" height="2.20" fill="#222" stroke="none" stroke-width="1"/>
<line x1="550.40" y1="419.60" x2="550.40" y2="427.08" stroke="#2a2a2a" stroke-width="0.8"/>
<line x1="548.50" y1="419.60" x2="552.30" y2="419.60" stroke="#2a2a2a" stroke-width="0.8"/>
<line x1="548.50" y1="427.08" x2="552.30" y2="427.08" stroke="#2a2a2a" stroke-width="0.8"/>
<rect x="549.30" y="422.24" width="2.20" height="2.20" fill="#222" stroke="none" stroke-width="1"/>
<line x1="567.70" y1="402.47" x2="567.70" y2="408.70" stroke="#2a2a2a" stroke-width="0.8"/>
<line x1="565.80" y1="402.47" x2="569.60" y2="402.47" stroke="#2a2a2a" stroke-width="0.8"/>
<line x1="565.80" y1="408.70" x2="569.60" y2="408.70" stroke="#2a2a2a" stroke-width="0.8"/>
<rect x="566.60" y="404.48" width="2.20" height="2.20" fill="#222" stroke="none" stroke-width="1"/>
<line x1="586.30" y1="406.83" x2="586.30" y2="416.18" stroke="#2a2a2a" stroke-width="0.8"/>
<line x1="584.40" y1="406.83" x2="588.20" y2="406.83" stroke="#2a2a2a" stroke-width="0.8"/>
<line x1="584.40" y1="416.18" x2="588.20" y2="416.18" stroke="#2a2a2a" stroke-width="0.8"/>
<rect x="585.20" y="410.40" width="2.20" height="2.20" fill="#222" stroke="none" stroke-width="1"/>
<line x1="604.10" y1="403.09" x2="604.10" y2="414.31" stroke="#2a2a2a" stroke-width="0.8"/>
<line x1="602.20" y1="403.09" x2="606.00" y2="403.09" stroke="#2a2a2a" stroke-width="0.8"/>
<line x1="602.20" y1="414.31" x2="606.00" y2="414.31" stroke="#2a2a2a" stroke-width="0.8"/>
<rect x="603.00" y="407.60" width="2.20" height="2.20" fill="#222" stroke="none" stroke-width="1"/>
<line x1="621.80" y1="428.64" x2="621.80" y2="436.74" stroke="#2a2a2a" stroke-width="0.8"/>
<line x1="619.90" y1="428.64" x2="623.70" y2="428.64" stroke="#2a2a2a" stroke-width="0.8"/>
<line x1="619.90" y1="436.74" x2="623.70" y2="436.74" stroke="#2a2a2a" stroke-width="0.8"/>
<rect x="620.70" y="431.59" width="2.20" height="2.20" fill="#222" stroke="none" stroke-width="1"/>
<line x1="639.30" y1="436.43" x2="639.30" y2="447.65" stroke="#2a2a2a" stroke-width="0.8"/>
<line x1="637.40" y1="436.43" x2="641.20" y2="436.43" stroke="#2a2a2a" stroke-width="0.8"/>
<line x1="637.40" y1="447.65" x2="641.20" y2="447.65" stroke="#2a2a2a" stroke-width="0.8"/>
<rect x="638.20" y="440.94" width="2.20" height="2.20" fill="#222" stroke="none" stroke-width="1"/>
<line x1="657.10" y1="441.42" x2="657.10" y2="450.76" stroke="#2a2a2a" stroke-width="0.8"/>
<line x1="655.20" y1="441.42" x2="659.00" y2="441.42" stroke="#2a2a2a" stroke-width="0.8"/>
<line x1="655.20" y1="450.76" x2="659.00" y2="450.76" stroke="#2a2a2a" stroke-width="0.8"/>
<rect x="656.00" y="444.99" width="2.20" height="2.20" fill="#222" stroke="none" stroke-width="1"/>
<line x1="676.00" y1="428.64" x2="676.00" y2="450.45" stroke="#2a2a2a" stroke-width="0.8"/>
<line x1="674.10" y1="428.64" x2="677.90" y2="428.64" stroke="#2a2a2a" stroke-width="0.8"/>
<line x1="674.10" y1="450.45" x2="677.90" y2="450.45" stroke="#2a2a2a" stroke-width="0.8"/>
<rect x="674.90" y="438.45" width="2.20" height="2.20" fill="#222" stroke="none" stroke-width="1"/>
<text x="533.0" y="485.6" font-size="10.7" text-anchor="middle" font-weight="normal" fill="#1c1c1c">Q</text>
<text x="550.3" y="485.6" font-size="10.7" text-anchor="middle" font-weight="normal" fill="#1c1c1c">4</text>
<text x="567.7" y="485.6" font-size="10.7" text-anchor="middle" font-weight="normal" fill="#1c1c1c">8</text>
<text x="585.8" y="485.6" font-size="10.7" text-anchor="middle" font-weight="normal" fill="#1c1c1c">13</text>
<text x="603.6" y="485.6" font-size="10.7" text-anchor="middle" font-weight="normal" fill="#1c1c1c">16</text>
<text x="621.8" y="485.6" font-size="10.7" text-anchor="middle" font-weight="normal" fill="#1c1c1c">20</text>
<text x="639.3" y="485.6" font-size="10.7" text-anchor="middle" font-weight="normal" fill="#1c1c1c">24</text>
<text x="656.8" y="485.6" font-size="10.7" text-anchor="middle" font-weight="normal" fill="#1c1c1c">28</text>
<text x="678.2" y="485.6" font-size="10.7" text-anchor="middle" font-weight="normal" fill="#1c1c1c">32</text>
<text x="602.0" y="498.7" font-size="10.85" text-anchor="middle" font-weight="normal" fill="#1c1c1c">Time after serum stimulation (h)</text>
<text x="532.2" y="403.2" font-size="10.7" text-anchor="start" font-weight="normal" fill="#1c1c1c">E2F3</text>
<text x="487.0" y="433.0" font-size="10.7" text-anchor="middle" font-weight="normal" fill="#1c1c1c" transform="rotate(-90 487.0 433)">Expression</text>
<text x="500.1" y="433.0" font-size="10.7" text-anchor="middle" font-weight="normal" fill="#1c1c1c" transform="rotate(-90 500.1 433)">(relative to GAPDH)</text>
<line x1="316.50" y1="510.30" x2="316.50" y2="599.90" stroke="#444" stroke-width="1.05"/>
<line x1="314.70" y1="599.40" x2="470.06" y2="599.40" stroke="#444" stroke-width="1.05"/>
<line x1="314.70" y1="599.40" x2="316.50" y2="599.40" stroke="#3a3a3a" stroke-width="0.9"/>
<text x="312.7" y="603.1" font-size="10.7" text-anchor="end" font-weight="normal" fill="#1c1c1c">0</text>
<line x1="315.10" y1="590.54" x2="316.50" y2="590.54" stroke="#555" stroke-width="0.7"/>
<line x1="314.70" y1="581.68" x2="316.50" y2="581.68" stroke="#3a3a3a" stroke-width="0.9"/>
<text x="312.7" y="585.4" font-size="10.7" text-anchor="end" font-weight="normal" fill="#1c1c1c">2</text>
<line x1="315.10" y1="572.82" x2="316.50" y2="572.82" stroke="#555" stroke-width="0.7"/>
<line x1="314.70" y1="563.96" x2="316.50" y2="563.96" stroke="#3a3a3a" stroke-width="0.9"/>
<text x="312.7" y="567.7" font-size="10.7" text-anchor="end" font-weight="normal" fill="#1c1c1c">4</text>
<line x1="315.10" y1="555.10" x2="316.50" y2="555.10" stroke="#555" stroke-width="0.7"/>
<line x1="314.70" y1="546.24" x2="316.50" y2="546.24" stroke="#3a3a3a" stroke-width="0.9"/>
<text x="312.7" y="549.9" font-size="10.7" text-anchor="end" font-weight="normal" fill="#1c1c1c">6</text>
<line x1="315.10" y1="537.38" x2="316.50" y2="537.38" stroke="#555" stroke-width="0.7"/>
<line x1="314.70" y1="528.52" x2="316.50" y2="528.52" stroke="#3a3a3a" stroke-width="0.9"/>
<text x="312.7" y="532.2" font-size="10.7" text-anchor="end" font-weight="normal" fill="#1c1c1c">8</text>
<line x1="315.10" y1="519.66" x2="316.50" y2="519.66" stroke="#555" stroke-width="0.7"/>
<line x1="314.70" y1="510.80" x2="316.50" y2="510.80" stroke="#3a3a3a" stroke-width="0.9"/>
<text x="312.7" y="514.5" font-size="10.7" text-anchor="end" font-weight="normal" fill="#1c1c1c">10</text>
<line x1="325.60" y1="599.40" x2="325.60" y2="601.40" stroke="#3a3a3a" stroke-width="0.8"/>
<line x1="342.97" y1="599.40" x2="342.97" y2="601.40" stroke="#3a3a3a" stroke-width="0.8"/>
<line x1="360.34" y1="599.40" x2="360.34" y2="601.40" stroke="#3a3a3a" stroke-width="0.8"/>
<line x1="377.71" y1="599.40" x2="377.71" y2="601.40" stroke="#3a3a3a" stroke-width="0.8"/>
<line x1="395.08" y1="599.40" x2="395.08" y2="601.40" stroke="#3a3a3a" stroke-width="0.8"/>
<line x1="412.45" y1="599.40" x2="412.45" y2="601.40" stroke="#3a3a3a" stroke-width="0.8"/>
<line x1="429.82" y1="599.40" x2="429.82" y2="601.40" stroke="#3a3a3a" stroke-width="0.8"/>
<line x1="447.19" y1="599.40" x2="447.19" y2="601.40" stroke="#3a3a3a" stroke-width="0.8"/>
<line x1="464.56" y1="599.40" x2="464.56" y2="601.40" stroke="#3a3a3a" stroke-width="0.8"/>
<path d="M325.60 590.54 L342.97 590.10 L360.34 586.11 L377.71 535.61 L395.08 517.89 L412.45 517.00 L429.82 543.58 L447.19 554.21 L464.56 571.05" fill="none" stroke="#2a2a2a" stroke-width="0.95"/>
<line x1="325.60" y1="589.21" x2="325.60" y2="591.87" stroke="#2a2a2a" stroke-width="0.8"/>
<line x1="323.70" y1="589.21" x2="327.50" y2="589.21" stroke="#2a2a2a" stroke-width="0.8"/>
<line x1="323.70" y1="591.87" x2="327.50" y2="591.87" stroke="#2a2a2a" stroke-width="0.8"/>
<rect x="324.50" y="589.44" width="2.20" height="2.20" fill="#222" stroke="none" stroke-width="1"/>
<line x1="342.97" y1="589.21" x2="342.97" y2="590.98" stroke="#2a2a2a" stroke-width="0.8"/>
<line x1="341.07" y1="589.21" x2="344.87" y2="589.21" stroke="#2a2a2a" stroke-width="0.8"/>
<line x1="341.07" y1="590.98" x2="344.87" y2="590.98" stroke="#2a2a2a" stroke-width="0.8"/>
<rect x="341.87" y="589.00" width="2.20" height="2.20" fill="#222" stroke="none" stroke-width="1"/>
<line x1="360.34" y1="585.05" x2="360.34" y2="587.17" stroke="#2a2a2a" stroke-width="0.8"/>
<line x1="358.44" y1="585.05" x2="362.24" y2="585.05" stroke="#2a2a2a" stroke-width="0.8"/>
<line x1="358.44" y1="587.17" x2="362.24" y2="587.17" stroke="#2a2a2a" stroke-width="0.8"/>
<rect x="359.24" y="585.01" width="2.20" height="2.20" fill="#222" stroke="none" stroke-width="1"/>
<line x1="377.71" y1="534.54" x2="377.71" y2="536.67" stroke="#2a2a2a" stroke-width="0.8"/>
<line x1="375.81" y1="534.54" x2="379.61" y2="534.54" stroke="#2a2a2a" stroke-width="0.8"/>
<line x1="375.81" y1="536.67" x2="379.61" y2="536.67" stroke="#2a2a2a" stroke-width="0.8"/>
<rect x="376.61" y="534.51" width="2.20" height="2.20" fill="#222" stroke="none" stroke-width="1"/>
<line x1="395.08" y1="517.00" x2="395.08" y2="518.77" stroke="#2a2a2a" stroke-width="0.8"/>
<line x1="393.18" y1="517.00" x2="396.98" y2="517.00" stroke="#2a2a2a" stroke-width="0.8"/>
<line x1="393.18" y1="518.77" x2="396.98" y2="518.77" stroke="#2a2a2a" stroke-width="0.8"/>
<rect x="393.98" y="516.79" width="2.20" height="2.20" fill="#222" stroke="none" stroke-width="1"/>
<line x1="412.45" y1="515.67" x2="412.45" y2="518.33" stroke="#2a2a2a" stroke-width="0.8"/>
<line x1="410.55" y1="515.67" x2="414.35" y2="515.67" stroke="#2a2a2a" stroke-width="0.8"/>
<line x1="410.55" y1="518.33" x2="414.35" y2="518.33" stroke="#2a2a2a" stroke-width="0.8"/>
<rect x="411.35" y="515.90" width="2.20" height="2.20" fill="#222" stroke="none" stroke-width="1"/>
<line x1="429.82" y1="542.70" x2="429.82" y2="544.47" stroke="#2a2a2a" stroke-width="0.8"/>
<line x1="427.92" y1="542.70" x2="431.72" y2="542.70" stroke="#2a2a2a" stroke-width="0.8"/>
<line x1="427.92" y1="544.47" x2="431.72" y2="544.47" stroke="#2a2a2a" stroke-width="0.8"/>
<rect x="428.72" y="542.48" width="2.20" height="2.20" fill="#222" stroke="none" stroke-width="1"/>
<line x1="447.19" y1="553.33" x2="447.19" y2="555.10" stroke="#2a2a2a" stroke-width="0.8"/>
<line x1="445.29" y1="553.33" x2="449.09" y2="553.33" stroke="#2a2a2a" stroke-width="0.8"/>
<line x1="445.29" y1="555.10" x2="449.09" y2="555.10" stroke="#2a2a2a" stroke-width="0.8"/>
<rect x="446.09" y="553.11" width="2.20" height="2.20" fill="#222" stroke="none" stroke-width="1"/>
<line x1="464.56" y1="570.16" x2="464.56" y2="571.93" stroke="#2a2a2a" stroke-width="0.8"/>
<line x1="462.66" y1="570.16" x2="466.46" y2="570.16" stroke="#2a2a2a" stroke-width="0.8"/>
<line x1="462.66" y1="571.93" x2="466.46" y2="571.93" stroke="#2a2a2a" stroke-width="0.8"/>
<rect x="463.46" y="569.95" width="2.20" height="2.20" fill="#222" stroke="none" stroke-width="1"/>
<text x="325.1" y="611.0" font-size="10.7" text-anchor="middle" font-weight="normal" fill="#1c1c1c">Q</text>
<text x="342.5" y="611.0" font-size="10.7" text-anchor="middle" font-weight="normal" fill="#1c1c1c">4</text>
<text x="359.8" y="611.0" font-size="10.7" text-anchor="middle" font-weight="normal" fill="#1c1c1c">8</text>
<text x="377.2" y="611.0" font-size="10.7" text-anchor="middle" font-weight="normal" fill="#1c1c1c">13</text>
<text x="394.6" y="611.0" font-size="10.7" text-anchor="middle" font-weight="normal" fill="#1c1c1c">16</text>
<text x="412.0" y="611.0" font-size="10.7" text-anchor="middle" font-weight="normal" fill="#1c1c1c">20</text>
<text x="429.3" y="611.0" font-size="10.7" text-anchor="middle" font-weight="normal" fill="#1c1c1c">24</text>
<text x="446.7" y="611.0" font-size="10.7" text-anchor="middle" font-weight="normal" fill="#1c1c1c">28</text>
<text x="464.1" y="611.0" font-size="10.7" text-anchor="middle" font-weight="normal" fill="#1c1c1c">32</text>
<text x="395.0" y="624.5" font-size="10.85" text-anchor="middle" font-weight="normal" fill="#1c1c1c">Time after serum stimulation (h)</text>
<text x="321.2" y="523.4" font-size="10.7" text-anchor="start" font-weight="normal" fill="#1c1c1c">B-MYB</text>
<text x="282.0" y="553.8" font-size="10.7" text-anchor="middle" font-weight="normal" fill="#1c1c1c" transform="rotate(-90 282 553.8)">Expression</text>
<text x="294.6" y="553.8" font-size="10.7" text-anchor="middle" font-weight="normal" fill="#1c1c1c" transform="rotate(-90 294.6 553.8)">(relative to GAPDH)</text>
<line x1="523.90" y1="523.70" x2="523.90" y2="599.90" stroke="#444" stroke-width="1.05"/>
<line x1="522.10" y1="599.40" x2="681.50" y2="599.40" stroke="#444" stroke-width="1.05"/>
<line x1="522.10" y1="599.40" x2="523.90" y2="599.40" stroke="#3a3a3a" stroke-width="0.9"/>
<text x="517.9" y="603.1" font-size="10.7" text-anchor="end" font-weight="normal" fill="#1c1c1c">0</text>
<line x1="522.10" y1="584.36" x2="523.90" y2="584.36" stroke="#3a3a3a" stroke-width="0.9"/>
<text x="517.9" y="588.1" font-size="10.7" text-anchor="end" font-weight="normal" fill="#1c1c1c">1</text>
<line x1="522.10" y1="569.32" x2="523.90" y2="569.32" stroke="#3a3a3a" stroke-width="0.9"/>
<text x="517.9" y="573.0" font-size="10.7" text-anchor="end" font-weight="normal" fill="#1c1c1c">2</text>
<line x1="522.10" y1="554.28" x2="523.90" y2="554.28" stroke="#3a3a3a" stroke-width="0.9"/>
<text x="517.9" y="558.0" font-size="10.7" text-anchor="end" font-weight="normal" fill="#1c1c1c">3</text>
<line x1="522.10" y1="539.24" x2="523.90" y2="539.24" stroke="#3a3a3a" stroke-width="0.9"/>
<text x="517.9" y="542.9" font-size="10.7" text-anchor="end" font-weight="normal" fill="#1c1c1c">4</text>
<line x1="522.10" y1="524.20" x2="523.90" y2="524.20" stroke="#3a3a3a" stroke-width="0.9"/>
<text x="517.9" y="527.9" font-size="10.7" text-anchor="end" font-weight="normal" fill="#1c1c1c">5</text>
<line x1="533.00" y1="599.40" x2="533.00" y2="601.40" stroke="#3a3a3a" stroke-width="0.8"/>
<line x1="550.40" y1="599.40" x2="550.40" y2="601.40" stroke="#3a3a3a" stroke-width="0.8"/>
<line x1="567.70" y1="599.40" x2="567.70" y2="601.40" stroke="#3a3a3a" stroke-width="0.8"/>
<line x1="586.30" y1="599.40" x2="586.30" y2="601.40" stroke="#3a3a3a" stroke-width="0.8"/>
<line x1="604.10" y1="599.40" x2="604.10" y2="601.40" stroke="#3a3a3a" stroke-width="0.8"/>
<line x1="621.80" y1="599.40" x2="621.80" y2="601.40" stroke="#3a3a3a" stroke-width="0.8"/>
<line x1="639.30" y1="599.40" x2="639.30" y2="601.40" stroke="#3a3a3a" stroke-width="0.8"/>
<line x1="657.10" y1="599.40" x2="657.10" y2="601.40" stroke="#3a3a3a" stroke-width="0.8"/>
<line x1="676.00" y1="599.40" x2="676.00" y2="601.40" stroke="#3a3a3a" stroke-width="0.8"/>
<path d="M533.00 584.36 L550.40 589.17 L567.70 576.09 L586.30 554.28 L604.10 535.03 L621.80 539.69 L639.30 555.78 L657.10 557.29 L676.00 538.79" fill="none" stroke="#2a2a2a" stroke-width="0.95"/>
<line x1="533.00" y1="581.35" x2="533.00" y2="587.37" stroke="#2a2a2a" stroke-width="0.8"/>
<line x1="531.10" y1="581.35" x2="534.90" y2="581.35" stroke="#2a2a2a" stroke-width="0.8"/>
<line x1="531.10" y1="587.37" x2="534.90" y2="587.37" stroke="#2a2a2a" stroke-width="0.8"/>
<rect x="531.90" y="583.26" width="2.20" height="2.20" fill="#222" stroke="none" stroke-width="1"/>
<line x1="550.40" y1="586.16" x2="550.40" y2="592.18" stroke="#2a2a2a" stroke-width="0.8"/>
<line x1="548.50" y1="586.16" x2="552.30" y2="586.16" stroke="#2a2a2a" stroke-width="0.8"/>
<line x1="548.50" y1="592.18" x2="552.30" y2="592.18" stroke="#2a2a2a" stroke-width="0.8"/>
<rect x="549.30" y="588.07" width="2.20" height="2.20" fill="#222" stroke="none" stroke-width="1"/>
<line x1="567.70" y1="573.08" x2="567.70" y2="579.10" stroke="#2a2a2a" stroke-width="0.8"/>
<line x1="565.80" y1="573.08" x2="569.60" y2="573.08" stroke="#2a2a2a" stroke-width="0.8"/>
<line x1="565.80" y1="579.10" x2="569.60" y2="579.10" stroke="#2a2a2a" stroke-width="0.8"/>
<rect x="566.60" y="574.99" width="2.20" height="2.20" fill="#222" stroke="none" stroke-width="1"/>
<line x1="586.30" y1="552.02" x2="586.30" y2="556.54" stroke="#2a2a2a" stroke-width="0.8"/>
<line x1="584.40" y1="552.02" x2="588.20" y2="552.02" stroke="#2a2a2a" stroke-width="0.8"/>
<line x1="584.40" y1="556.54" x2="588.20" y2="556.54" stroke="#2a2a2a" stroke-width="0.8"/>
<rect x="585.20" y="553.18" width="2.20" height="2.20" fill="#222" stroke="none" stroke-width="1"/>
<line x1="604.10" y1="532.77" x2="604.10" y2="537.28" stroke="#2a2a2a" stroke-width="0.8"/>
<line x1="602.20" y1="532.77" x2="606.00" y2="532.77" stroke="#2a2a2a" stroke-width="0.8"/>
<line x1="602.20" y1="537.28" x2="606.00" y2="537.28" stroke="#2a2a2a" stroke-width="0.8"/>
<rect x="603.00" y="533.93" width="2.20" height="2.20" fill="#222" stroke="none" stroke-width="1"/>
<line x1="621.80" y1="537.74" x2="621.80" y2="541.65" stroke="#2a2a2a" stroke-width="0.8"/>
<line x1="619.90" y1="537.74" x2="623.70" y2="537.74" stroke="#2a2a2a" stroke-width="0.8"/>
<line x1="619.90" y1="541.65" x2="623.70" y2="541.65" stroke="#2a2a2a" stroke-width="0.8"/>
<rect x="620.70" y="538.59" width="2.20" height="2.20" fill="#222" stroke="none" stroke-width="1"/>
<line x1="639.30" y1="551.27" x2="639.30" y2="560.30" stroke="#2a2a2a" stroke-width="0.8"/>
<line x1="637.40" y1="551.27" x2="641.20" y2="551.27" stroke="#2a2a2a" stroke-width="0.8"/>
<line x1="637.40" y1="560.30" x2="641.20" y2="560.30" stroke="#2a2a2a" stroke-width="0.8"/>
<rect x="638.20" y="554.68" width="2.20" height="2.20" fill="#222" stroke="none" stroke-width="1"/>
<line x1="657.10" y1="554.28" x2="657.10" y2="560.30" stroke="#2a2a2a" stroke-width="0.8"/>
<line x1="655.20" y1="554.28" x2="659.00" y2="554.28" stroke="#2a2a2a" stroke-width="0.8"/>
<line x1="655.20" y1="560.30" x2="659.00" y2="560.30" stroke="#2a2a2a" stroke-width="0.8"/>
<rect x="656.00" y="556.19" width="2.20" height="2.20" fill="#222" stroke="none" stroke-width="1"/>
<line x1="676.00" y1="536.98" x2="676.00" y2="540.59" stroke="#2a2a2a" stroke-width="0.8"/>
<line x1="674.10" y1="536.98" x2="677.90" y2="536.98" stroke="#2a2a2a" stroke-width="0.8"/>
<line x1="674.10" y1="540.59" x2="677.90" y2="540.59" stroke="#2a2a2a" stroke-width="0.8"/>
<rect x="674.90" y="537.69" width="2.20" height="2.20" fill="#222" stroke="none" stroke-width="1"/>
<text x="533.0" y="611.4" font-size="10.7" text-anchor="middle" font-weight="normal" fill="#1c1c1c">Q</text>
<text x="550.3" y="611.4" font-size="10.7" text-anchor="middle" font-weight="normal" fill="#1c1c1c">4</text>
<text x="567.7" y="611.4" font-size="10.7" text-anchor="middle" font-weight="normal" fill="#1c1c1c">8</text>
<text x="585.8" y="611.4" font-size="10.7" text-anchor="middle" font-weight="normal" fill="#1c1c1c">13</text>
<text x="603.6" y="611.4" font-size="10.7" text-anchor="middle" font-weight="normal" fill="#1c1c1c">16</text>
<text x="621.8" y="611.4" font-size="10.7" text-anchor="middle" font-weight="normal" fill="#1c1c1c">20</text>
<text x="639.3" y="611.4" font-size="10.7" text-anchor="middle" font-weight="normal" fill="#1c1c1c">24</text>
<text x="656.8" y="611.4" font-size="10.7" text-anchor="middle" font-weight="normal" fill="#1c1c1c">28</text>
<text x="678.2" y="611.4" font-size="10.7" text-anchor="middle" font-weight="normal" fill="#1c1c1c">32</text>
<text x="601.6" y="624.1" font-size="10.85" text-anchor="middle" font-weight="normal" fill="#1c1c1c">Time after serum stimulation (h)</text>
<text x="532.0" y="523.2" font-size="10.7" text-anchor="start" font-weight="normal" fill="#1c1c1c">LIN-9</text>
<text x="492.6" y="560.3" font-size="10.7" text-anchor="middle" font-weight="normal" fill="#1c1c1c" transform="rotate(-90 492.6 560.3)">Expression</text>
<text x="507.1" y="560.3" font-size="10.7" text-anchor="middle" font-weight="normal" fill="#1c1c1c" transform="rotate(-90 507.1 560.3)">(relative to GAPDH)</text>
<text x="271.6" y="649.8" font-size="15.5" text-anchor="start" font-weight="bold" fill="#111">D</text>
<line x1="369.00" y1="646.00" x2="369.00" y2="808.20" stroke="#3a3a3a" stroke-width="1"/>
<line x1="366.00" y1="805.20" x2="481.50" y2="805.20" stroke="#3a3a3a" stroke-width="1"/>
<line x1="366.00" y1="805.20" x2="369.00" y2="805.20" stroke="#3a3a3a" stroke-width="1"/>
<text x="362.0" y="809.4" font-size="10.7" text-anchor="end" font-weight="normal" fill="#1c1c1c">0</text>
<line x1="366.00" y1="778.73" x2="369.00" y2="778.73" stroke="#3a3a3a" stroke-width="1"/>
<text x="362.0" y="782.9" font-size="10.7" text-anchor="end" font-weight="normal" fill="#1c1c1c">0.2</text>
<line x1="366.00" y1="752.26" x2="369.00" y2="752.26" stroke="#3a3a3a" stroke-width="1"/>
<text x="362.0" y="756.5" font-size="10.7" text-anchor="end" font-weight="normal" fill="#1c1c1c">0.4</text>
<line x1="366.00" y1="725.79" x2="369.00" y2="725.79" stroke="#3a3a3a" stroke-width="1"/>
<text x="362.0" y="730.0" font-size="10.7" text-anchor="end" font-weight="normal" fill="#1c1c1c">0.6</text>
<line x1="366.00" y1="699.32" x2="369.00" y2="699.32" stroke="#3a3a3a" stroke-width="1"/>
<text x="362.0" y="703.5" font-size="10.7" text-anchor="end" font-weight="normal" fill="#1c1c1c">0.8</text>
<line x1="366.00" y1="672.85" x2="369.00" y2="672.85" stroke="#3a3a3a" stroke-width="1"/>
<text x="362.0" y="677.1" font-size="10.7" text-anchor="end" font-weight="normal" fill="#1c1c1c">1.0</text>
<line x1="366.00" y1="646.38" x2="369.00" y2="646.38" stroke="#3a3a3a" stroke-width="1"/>
<text x="362.0" y="650.6" font-size="10.7" text-anchor="end" font-weight="normal" fill="#1c1c1c">1.2</text>
<line x1="381.60" y1="800.17" x2="381.60" y2="801.23" stroke="#222" stroke-width="0.8"/>
<line x1="380.40" y1="800.17" x2="382.80" y2="800.17" stroke="#222" stroke-width="0.8"/>
<rect x="374.60" y="801.23" width="14.00" height="3.97" fill="#dedede" stroke="#333" stroke-width="0.8"/>
<line x1="396.70" y1="802.29" x2="396.70" y2="802.82" stroke="#222" stroke-width="0.8"/>
<line x1="395.50" y1="802.29" x2="397.90" y2="802.29" stroke="#222" stroke-width="0.8"/>
<rect x="390.00" y="802.82" width="13.40" height="2.38" fill="#141414" stroke="#333" stroke-width="0.8"/>
<line x1="421.60" y1="772.77" x2="421.60" y2="776.74" stroke="#222" stroke-width="0.8"/>
<line x1="420.40" y1="772.77" x2="422.80" y2="772.77" stroke="#222" stroke-width="0.8"/>
<rect x="414.60" y="776.74" width="14.00" height="28.46" fill="#dedede" stroke="#333" stroke-width="0.8"/>
<line x1="436.90" y1="782.83" x2="436.90" y2="784.42" stroke="#222" stroke-width="0.8"/>
<line x1="435.70" y1="782.83" x2="438.10" y2="782.83" stroke="#222" stroke-width="0.8"/>
<rect x="430.20" y="784.42" width="13.40" height="20.78" fill="#141414" stroke="#333" stroke-width="0.8"/>
<line x1="458.20" y1="665.57" x2="458.20" y2="670.20" stroke="#222" stroke-width="0.8"/>
<line x1="457.00" y1="665.57" x2="459.40" y2="665.57" stroke="#222" stroke-width="0.8"/>
<rect x="451.20" y="670.20" width="14.00" height="135.00" fill="#dedede" stroke="#333" stroke-width="0.8"/>
<line x1="474.20" y1="786.67" x2="474.20" y2="791.30" stroke="#222" stroke-width="0.8"/>
<line x1="473.00" y1="786.67" x2="475.40" y2="786.67" stroke="#222" stroke-width="0.8"/>
<rect x="467.50" y="791.30" width="13.40" height="13.90" fill="#141414" stroke="#333" stroke-width="0.8"/>
<text x="389.3" y="816.8" font-size="10.7" text-anchor="middle" font-weight="normal" fill="#1c1c1c">IgG</text>
<text x="428.2" y="816.8" font-size="10.7" text-anchor="middle" font-weight="normal" fill="#1c1c1c">LIN-9</text>
<text x="466.0" y="816.8" font-size="10.7" text-anchor="middle" font-weight="normal" fill="#1c1c1c">E2F4</text>
<text x="426.6" y="831.2" font-size="10.7" text-anchor="middle" font-weight="bold" fill="#111">Cyclin B1</text>
<text x="342.2" y="726.6" font-size="10.7" text-anchor="middle" font-weight="normal" fill="#1c1c1c" transform="rotate(-90 342.2 726.6)">% of input</text>
<rect x="374.90" y="647.80" width="8.10" height="8.10" fill="#e2e2e2" stroke="#444" stroke-width="0.8"/>
<text x="387.0" y="656.0" font-size="10.7" text-anchor="start" font-weight="normal" fill="#1c1c1c">Quiescent</text>
<rect x="374.90" y="664.00" width="8.10" height="8.10" fill="#141414" stroke="#222" stroke-width="0.8"/>
<text x="387.0" y="671.8" font-size="10.7" text-anchor="start" font-weight="normal" fill="#1c1c1c">S-phase</text>
<line x1="519.30" y1="648.50" x2="519.30" y2="806.60" stroke="#3a3a3a" stroke-width="1"/>
<line x1="516.30" y1="803.60" x2="627.50" y2="803.60" stroke="#3a3a3a" stroke-width="1"/>
<line x1="516.30" y1="803.60" x2="519.30" y2="803.60" stroke="#3a3a3a" stroke-width="1"/>
<text x="512.8" y="807.3" font-size="10.7" text-anchor="end" font-weight="normal" fill="#1c1c1c">0</text>
<line x1="516.30" y1="772.66" x2="519.30" y2="772.66" stroke="#3a3a3a" stroke-width="1"/>
<text x="512.8" y="776.4" font-size="10.7" text-anchor="end" font-weight="normal" fill="#1c1c1c">0.2</text>
<line x1="516.30" y1="741.72" x2="519.30" y2="741.72" stroke="#3a3a3a" stroke-width="1"/>
<text x="512.8" y="745.4" font-size="10.7" text-anchor="end" font-weight="normal" fill="#1c1c1c">0.4</text>
<line x1="516.30" y1="710.78" x2="519.30" y2="710.78" stroke="#3a3a3a" stroke-width="1"/>
<text x="512.8" y="714.5" font-size="10.7" text-anchor="end" font-weight="normal" fill="#1c1c1c">0.6</text>
<line x1="516.30" y1="679.84" x2="519.30" y2="679.84" stroke="#3a3a3a" stroke-width="1"/>
<text x="512.8" y="683.5" font-size="10.7" text-anchor="end" font-weight="normal" fill="#1c1c1c">0.8</text>
<line x1="516.30" y1="648.90" x2="519.30" y2="648.90" stroke="#3a3a3a" stroke-width="1"/>
<text x="512.8" y="652.6" font-size="10.7" text-anchor="end" font-weight="normal" fill="#1c1c1c">1.0</text>
<line x1="533.00" y1="799.27" x2="533.00" y2="802.67" stroke="#222" stroke-width="0.8"/>
<line x1="530.50" y1="799.27" x2="535.50" y2="799.27" stroke="#222" stroke-width="0.8"/>
<rect x="527.50" y="802.67" width="11.00" height="0.93" fill="#dedede" stroke="#333" stroke-width="0.7"/>
<line x1="544.00" y1="799.11" x2="544.00" y2="802.83" stroke="#222" stroke-width="0.8"/>
<line x1="541.50" y1="799.11" x2="546.50" y2="799.11" stroke="#222" stroke-width="0.8"/>
<rect x="538.50" y="802.83" width="11.00" height="0.77" fill="#141414" stroke="#333" stroke-width="0.7"/>
<line x1="567.30" y1="799.58" x2="567.30" y2="802.67" stroke="#222" stroke-width="0.8"/>
<line x1="564.80" y1="799.58" x2="569.80" y2="799.58" stroke="#222" stroke-width="0.8"/>
<rect x="561.80" y="802.67" width="11.00" height="0.93" fill="#dedede" stroke="#333" stroke-width="0.7"/>
<line x1="578.30" y1="799.11" x2="578.30" y2="802.83" stroke="#222" stroke-width="0.8"/>
<line x1="575.80" y1="799.11" x2="580.80" y2="799.11" stroke="#222" stroke-width="0.8"/>
<rect x="572.80" y="802.83" width="11.00" height="0.77" fill="#141414" stroke="#333" stroke-width="0.7"/>
<line x1="606.20" y1="801.12" x2="606.20" y2="801.74" stroke="#222" stroke-width="0.8"/>
<line x1="603.70" y1="801.12" x2="608.70" y2="801.12" stroke="#222" stroke-width="0.8"/>
<rect x="600.70" y="801.74" width="11.00" height="1.86" fill="#dedede" stroke="#333" stroke-width="0.7"/>
<line x1="617.20" y1="796.33" x2="617.20" y2="799.42" stroke="#222" stroke-width="0.8"/>
<line x1="614.70" y1="796.33" x2="619.70" y2="796.33" stroke="#222" stroke-width="0.8"/>
<rect x="611.70" y="799.42" width="11.00" height="4.18" fill="#141414" stroke="#333" stroke-width="0.7"/>
<text x="534.2" y="817.0" font-size="10.7" text-anchor="middle" font-weight="normal" fill="#1c1c1c">IgG</text>
<text x="573.0" y="817.0" font-size="10.7" text-anchor="middle" font-weight="normal" fill="#1c1c1c">LIN-9</text>
<text x="612.3" y="817.0" font-size="10.7" text-anchor="middle" font-weight="normal" fill="#1c1c1c">E2F4</text>
<text x="573.0" y="830.6" font-size="10.7" text-anchor="middle" font-weight="bold" fill="#111">GAPDH2</text>
<rect x="534.20" y="650.80" width="8.00" height="8.00" fill="#dedede" stroke="#333" stroke-width="0.8"/>
<text x="546.0" y="658.1" font-size="10.7" text-anchor="start" font-weight="normal" fill="#1c1c1c">Quiescent</text>
<rect x="534.20" y="667.40" width="8.00" height="8.00" fill="#141414" stroke="#222" stroke-width="0.8"/>
<text x="546.0" y="675.2" font-size="10.7" text-anchor="start" font-weight="normal" fill="#1c1c1c">S-phase</text>
</svg>
</body></html>
